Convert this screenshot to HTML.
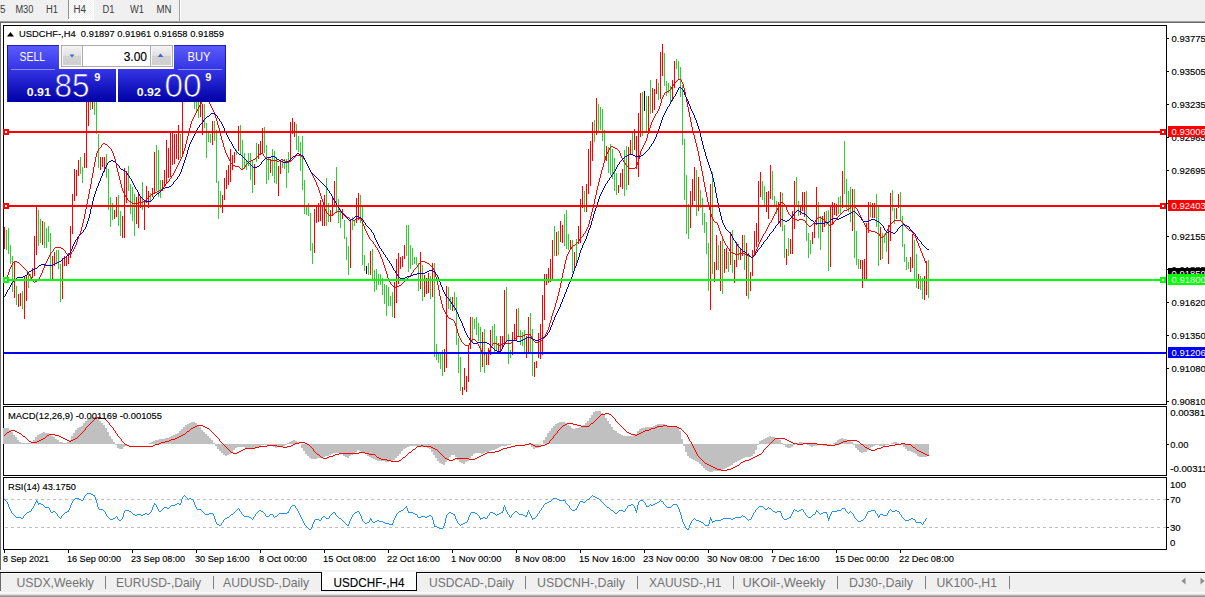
<!DOCTYPE html>
<html><head><meta charset="utf-8"><title>USDCHF-,H4</title>
<style>html,body{margin:0;padding:0;background:#fff;width:1205px;height:597px;overflow:hidden}svg text{font-family:"Liberation Sans",sans-serif}</style></head>
<body>
<svg width="1205" height="597" viewBox="0 0 1205 597" font-family="Liberation Sans, sans-serif" style="position:absolute;left:0;top:0;display:block">
<defs>
<linearGradient id="gb" gradientUnits="userSpaceOnUse" x1="0" y1="45" x2="0" y2="102"><stop offset="0" stop-color="#5c5cff"/><stop offset="0.42" stop-color="#3535e6"/><stop offset="1" stop-color="#0000a6"/></linearGradient>
<linearGradient id="gbtn" x1="0" y1="0" x2="0" y2="1"><stop offset="0" stop-color="#f4f4f4"/><stop offset="0.5" stop-color="#e0e0e0"/><stop offset="0.51" stop-color="#d2d2d2"/><stop offset="1" stop-color="#cfcfcf"/></linearGradient>
<pattern id="chk" x="0" y="0" width="2" height="2" patternUnits="userSpaceOnUse"><rect width="2" height="2" fill="#f0f0f0"/><rect x="1" y="0" width="1" height="1" fill="#fff"/><rect x="0" y="1" width="1" height="1" fill="#fff"/></pattern>
<clipPath id="cpm"><rect x="4" y="26" width="1162" height="378"/></clipPath>
</defs>
<rect x="0" y="0" width="1205" height="597" fill="#fff" />
<rect x="0" y="0" width="1205" height="21" fill="#f0f0f0" />
<rect x="0" y="21" width="1205" height="1" fill="#a0a0a0" />
<rect x="0" y="22" width="1205" height="1" fill="#696969" />
<rect x="0" y="22" width="1" height="548" fill="#696969" />
<rect x="69" y="0" width="24" height="19" fill="url(#chk)" />
<rect x="68" y="19" width="26" height="1" fill="#fff" />
<rect x="93" y="0" width="1" height="20" fill="#fff" />
<rect x="68" y="0" width="1" height="19" fill="#909090" />
<rect x="179" y="0" width="1" height="21" fill="#a0a0a0" />
<rect x="180" y="0" width="1" height="21" fill="#ffffff" />
<text x="0" y="13" font-size="10" fill="#3c3c3c" text-anchor="start" font-weight="normal" textLength="5.5" lengthAdjust="spacingAndGlyphs" >5</text>
<text x="15.4" y="13" font-size="10" fill="#3c3c3c" text-anchor="start" font-weight="normal" textLength="18" lengthAdjust="spacingAndGlyphs" >M30</text>
<text x="46" y="13" font-size="10" fill="#3c3c3c" text-anchor="start" font-weight="normal" textLength="12" lengthAdjust="spacingAndGlyphs" >H1</text>
<text x="73.5" y="13" font-size="10" fill="#3c3c3c" text-anchor="start" font-weight="normal" textLength="12.5" lengthAdjust="spacingAndGlyphs" >H4</text>
<text x="102.4" y="13" font-size="10" fill="#3c3c3c" text-anchor="start" font-weight="normal" textLength="12" lengthAdjust="spacingAndGlyphs" >D1</text>
<text x="130" y="13" font-size="10" fill="#3c3c3c" text-anchor="start" font-weight="normal" textLength="14" lengthAdjust="spacingAndGlyphs" >W1</text>
<text x="156.5" y="13" font-size="10" fill="#3c3c3c" text-anchor="start" font-weight="normal" textLength="15" lengthAdjust="spacingAndGlyphs" >MN</text>
<rect x="3" y="25" width="1164" height="1" fill="#000" />
<rect x="3" y="25" width="1" height="380" fill="#000" />
<rect x="3" y="404" width="1164" height="1" fill="#000" />
<rect x="1166" y="25" width="1" height="380" fill="#000" />
<rect x="1166" y="406" width="1" height="70" fill="#000" />
<rect x="1166" y="477" width="1" height="73" fill="#000" />
<rect x="3" y="406" width="1164" height="1" fill="#000" />
<rect x="3" y="406" width="1" height="70" fill="#000" />
<rect x="3" y="475" width="1164" height="1" fill="#000" />
<rect x="3" y="477" width="1164" height="1" fill="#000" />
<rect x="3" y="477" width="1" height="73" fill="#000" />
<rect x="3" y="549" width="1164" height="1" fill="#000" />
<g clip-path="url(#cpm)">
<path d="M6.5 230V250M8.5 228V254M10.5 245V264M12.5 256V292M16.5 286V305M22.5 291V309M28.5 274V288M30.5 274V280M38.5 210V246M40.5 219V243M44.5 222V248M46.5 228V248M48.5 226V242M50.5 233V279M56.5 250V264M58.5 250V269M60.5 264V302M80.5 157V174M82.5 167V183M90.5 92V110M94.5 92V115M96.5 96V134M98.5 134V168M106.5 154V178M108.5 169V210M110.5 197V227M112.5 203V220M118.5 195V226M120.5 211V236M128.5 166V191M130.5 184V214M132.5 187V221M134.5 194V236M142.5 182V210M150.5 193V202M156.5 145V191M158.5 150V197M160.5 180V198M180.5 134V158M188.5 86V97M192.5 79V97M194.5 89V109M196.5 93V111M198.5 97V118M204.5 104V128M206.5 123V158M208.5 133V142M210.5 134V143M214.5 121V141M216.5 130V183M218.5 181V219M220.5 191V208M236.5 150V155M240.5 125V154M242.5 140V169M244.5 153V169M246.5 160V170M248.5 153V166M250.5 153V180M252.5 160V193M256.5 143V162M264.5 127V153M266.5 145V184M268.5 158V180M272.5 149V176M274.5 151V183M276.5 157V184M282.5 160V168M284.5 159V169M286.5 159V188M288.5 152V173M296.5 124V150M298.5 136V152M300.5 142V171M302.5 136V190M304.5 180V214M306.5 206V215M308.5 203V216M310.5 213V251M312.5 243V264M326.5 178V226M328.5 203V222M336.5 167V212M338.5 199V223M340.5 209V228M344.5 220V239M346.5 237V260M348.5 246V275M352.5 217V230M354.5 220V226M360.5 195V223M362.5 205V265M364.5 255V271M368.5 263V275M372.5 249V281M374.5 270V292M376.5 269V290M378.5 274V285M380.5 274V285M382.5 278V295M384.5 284V304M386.5 285V316M388.5 287V306M390.5 296V306M392.5 292V317M406.5 225V256M408.5 225V272M410.5 245V269M412.5 248V265M414.5 257V264M416.5 257V265M418.5 263V291M422.5 265V301M430.5 276V299M434.5 263V357M436.5 344V360M438.5 352V363M440.5 353V369M442.5 350V376M448.5 287V309M450.5 297V310M454.5 292V311M456.5 297V345M458.5 338V373M460.5 357V391M472.5 317V342M474.5 319V329M476.5 317V335M478.5 323V341M480.5 327V372M484.5 329V373M492.5 326V344M494.5 324V354M496.5 336V351M506.5 287V342M508.5 334V364M510.5 350V358M518.5 308V337M520.5 330V345M522.5 332V346M524.5 330V352M530.5 313V354M532.5 329V376M554.5 226V256M558.5 231V255M564.5 214V246M566.5 210V249M568.5 234V250M572.5 240V273M576.5 239V264M584.5 191V212M594.5 120V142M598.5 104V132M600.5 107V130M602.5 109V141M604.5 130V163M608.5 147V173M610.5 144V175M612.5 149V179M614.5 158V191M616.5 173V195M624.5 150V196M626.5 146V190M632.5 132V154M642.5 92V136M646.5 96V133M650.5 80V114M658.5 83V100M664.5 53V86M666.5 81V96M668.5 83V93M670.5 86V104M676.5 59V69M678.5 61V79M680.5 67V97M682.5 85V145M684.5 139V200M686.5 175V234M688.5 204V239M696.5 170V216M700.5 190V208M702.5 198V225M704.5 213V233M706.5 222V254M708.5 243V291M712.5 172V274M718.5 245V270M722.5 236V294M728.5 252V272M732.5 230V273M738.5 244V260M744.5 235V270M748.5 253V299M762.5 181V200M764.5 186V207M772.5 171V200M774.5 196V207M776.5 201V214M782.5 193V231M784.5 225V258M788.5 238V256M796.5 177V206M798.5 201V216M806.5 191V241M808.5 233V258M810.5 240V254M818.5 202V238M820.5 216V250M826.5 211V225M828.5 210V271M838.5 197V214M840.5 196V215M844.5 141V194M846.5 179V209M848.5 191V212M850.5 187V222M854.5 189V258M856.5 231V265M858.5 259V269M870.5 202V217M876.5 194V227M878.5 207V266M882.5 233V259M884.5 234V243M886.5 233V252M892.5 190V211M894.5 208V224M900.5 192V220M902.5 216V247M904.5 244V262M906.5 257V270M908.5 262V269M914.5 240V280M916.5 254V288M920.5 276V290M922.5 278V299M928.5 260V298" stroke="#32cd32" stroke-width="1" fill="none" shape-rendering="crispEdges"/>
<path d="M4.5 227V249M14.5 262V298M18.5 294V307M20.5 293V306M24.5 276V319M26.5 276V301M32.5 268V278M34.5 236V276M36.5 207V255M42.5 221V245M52.5 256V279M54.5 252V266M62.5 258V299M64.5 256V266M66.5 257V266M68.5 253V264M70.5 226V258M72.5 194V234M74.5 169V201M76.5 170V196M78.5 160V176M84.5 153V168M86.5 94V168M88.5 92V126M92.5 93V109M100.5 157V170M102.5 157V167M104.5 157V172M114.5 210V219M116.5 197V217M122.5 216V238M124.5 168V238M126.5 171V203M136.5 197V224M138.5 192V228M140.5 197V208M144.5 200V230M146.5 186V203M148.5 191V208M152.5 188V197M154.5 152V193M162.5 180V191M164.5 170V187M166.5 140V184M168.5 148V178M170.5 131V177M172.5 132V165M174.5 134V164M176.5 134V159M178.5 125V160M182.5 96V154M184.5 89V100M186.5 87V99M190.5 79V95M200.5 95V117M202.5 104V135M212.5 121V145M222.5 195V213M224.5 178V200M226.5 170V189M228.5 165V185M230.5 149V182M232.5 155V170M234.5 152V163M238.5 126V151M254.5 164V185M258.5 144V159M260.5 141V154M262.5 128V153M270.5 159V173M278.5 166V196M280.5 161V174M290.5 122V162M292.5 118V134M294.5 122V137M314.5 209V253M316.5 207V223M318.5 203V222M320.5 200V221M322.5 205V226M324.5 195V226M330.5 210V222M332.5 198V215M334.5 181V205M342.5 209V219M350.5 221V268M356.5 198V223M358.5 193V220M370.5 251V275M394.5 282V318M396.5 259V303M398.5 253V284M400.5 257V269M402.5 256V267M404.5 245V259M420.5 252V289M424.5 275V297M426.5 278V294M428.5 273V293M432.5 263V297M444.5 349V372M446.5 286V368M452.5 297V311M462.5 387V395M464.5 368V390M466.5 376V392M468.5 346V382M470.5 317V349M482.5 332V367M486.5 352V365M488.5 348V365M490.5 330V355M498.5 343V352M500.5 336V354M502.5 336V348M504.5 290V345M512.5 332V355M514.5 324V340M516.5 309V341M526.5 336V358M528.5 317V353M534.5 362V377M536.5 361V368M538.5 333V358M540.5 324V359M542.5 295V355M544.5 274V320M546.5 274V285M548.5 268V283M550.5 259V282M552.5 240V280M556.5 232V256M560.5 221V242M562.5 225V243M570.5 240V249M574.5 252V268M578.5 226V244M580.5 199V243M582.5 186V208M586.5 184V212M588.5 149V194M590.5 141V186M592.5 122V161M596.5 98V135M606.5 146V161M618.5 185V193M620.5 173V187M622.5 169V189M628.5 147V185M630.5 140V155M634.5 129V150M636.5 136V169M638.5 113V177M640.5 93V137M648.5 96V131M652.5 88V113M654.5 89V110M656.5 79V94M660.5 52V99M662.5 44V76M672.5 80V101M674.5 61V88M690.5 191V228M692.5 179V206M694.5 167V201M698.5 177V211M710.5 184V310M714.5 262V282M716.5 235V270M720.5 241V291M724.5 249V273M726.5 248V269M730.5 232V265M734.5 260V283M736.5 242V267M740.5 249V260M742.5 235V256M746.5 243V296M750.5 272V291M752.5 250V276M754.5 231V254M756.5 223V247M758.5 181V242M760.5 172V197M766.5 192V212M768.5 191V219M770.5 165V199M778.5 202V223M780.5 192V227M786.5 249V265M790.5 239V254M792.5 211V254M794.5 181V229M800.5 205V215M802.5 192V211M804.5 192V217M812.5 232V244M814.5 223V238M816.5 187V225M822.5 216V232M824.5 212V227M830.5 205V267M832.5 202V225M834.5 203V215M836.5 204V216M842.5 171V208M852.5 189V231M860.5 260V269M862.5 260V288M864.5 259V279M866.5 223V279M868.5 202V233M872.5 203V218M874.5 203V218M880.5 227V260M888.5 225V264M890.5 193V241M896.5 208V219M898.5 194V208M910.5 257V272M912.5 234V268M918.5 274V289M924.5 276V300M926.5 261V295" stroke="#ff0000" stroke-width="1" fill="none" shape-rendering="crispEdges"/>
<path d="M366.5 266V274M644.5 91V111" stroke="#000" stroke-width="1" fill="none" shape-rendering="crispEdges"/>
<path d="M6 277h1v2h-1zM7 275h1v2h-1zM8 272h1v3h-1zM9 269h1v3h-1zM10 267h1v2h-1zM11 265h1v2h-1zM12 263h1v2h-1zM13 262h1v1h-1zM14 261h1v1h-1zM15 261h1v1h-1zM16 261h1v1h-1zM17 262h1v1h-1zM18 262h1v1h-1zM19 263h1v1h-1zM20 264h1v1h-1zM21 265h1v1h-1zM22 266h1v1h-1zM23 267h1v1h-1zM24 268h1v1h-1zM25 269h1v1h-1zM26 270h1v1h-1zM27 271h1v2h-1zM28 273h1v1h-1zM29 274h1v2h-1zM30 276h1v1h-1zM31 277h1v2h-1zM32 279h1v2h-1zM33 281h1v1h-1zM34 282h1v1h-1zM35 281h1v1h-1zM36 281h1v1h-1zM37 280h1v1h-1zM38 279h1v1h-1zM39 277h1v2h-1zM40 275h1v2h-1zM41 273h1v2h-1zM42 270h1v3h-1zM43 268h1v2h-1zM44 265h1v3h-1zM45 263h1v2h-1zM46 261h1v2h-1zM47 259h1v2h-1zM48 257h1v2h-1zM49 255h1v2h-1zM50 253h1v2h-1zM51 252h1v1h-1zM52 251h1v1h-1zM53 249h1v2h-1zM54 248h1v1h-1zM55 247h1v1h-1zM56 247h1v1h-1zM57 247h1v1h-1zM58 247h1v1h-1zM59 247h1v1h-1zM60 247h1v1h-1zM61 248h1v1h-1zM62 248h1v1h-1zM63 249h1v1h-1zM64 250h1v1h-1zM65 251h1v2h-1zM66 253h1v1h-1zM67 254h1v1h-1zM68 254h1v1h-1zM69 254h1v1h-1zM70 254h1v1h-1zM71 252h1v2h-1zM72 251h1v1h-1zM73 249h1v2h-1zM74 247h1v2h-1zM75 245h1v2h-1zM76 242h1v3h-1zM77 239h1v3h-1zM78 236h1v3h-1zM79 234h1v2h-1zM80 231h1v3h-1zM81 227h1v4h-1zM82 223h1v4h-1zM83 219h1v4h-1zM84 214h1v5h-1zM85 209h1v5h-1zM86 204h1v5h-1zM87 199h1v5h-1zM88 194h1v5h-1zM89 189h1v5h-1zM90 184h1v5h-1zM91 178h1v6h-1zM92 173h1v5h-1zM93 167h1v6h-1zM94 162h1v5h-1zM95 157h1v5h-1zM96 153h1v4h-1zM97 151h1v2h-1zM98 149h1v2h-1zM99 148h1v1h-1zM100 147h1v1h-1zM101 145h1v2h-1zM102 144h1v1h-1zM103 143h1v1h-1zM104 143h1v1h-1zM105 144h1v1h-1zM106 144h1v1h-1zM107 145h1v1h-1zM108 146h1v1h-1zM109 147h1v1h-1zM110 148h1v1h-1zM111 149h1v2h-1zM112 151h1v2h-1zM113 153h1v3h-1zM114 156h1v3h-1zM115 159h1v4h-1zM116 163h1v5h-1zM117 168h1v4h-1zM118 172h1v4h-1zM119 176h1v4h-1zM120 180h1v4h-1zM121 184h1v4h-1zM122 188h1v3h-1zM123 191h1v2h-1zM124 193h1v2h-1zM125 195h1v2h-1zM126 197h1v1h-1zM127 198h1v2h-1zM128 200h1v1h-1zM129 201h1v1h-1zM130 201h1v1h-1zM131 202h1v1h-1zM132 203h1v1h-1zM133 203h1v1h-1zM134 203h1v1h-1zM135 203h1v1h-1zM136 203h1v1h-1zM137 203h1v1h-1zM138 203h1v1h-1zM139 202h1v1h-1zM140 202h1v1h-1zM141 202h1v1h-1zM142 202h1v1h-1zM143 201h1v1h-1zM144 201h1v1h-1zM145 200h1v1h-1zM146 199h1v1h-1zM147 198h1v1h-1zM148 197h1v1h-1zM149 196h1v1h-1zM150 195h1v1h-1zM151 194h1v1h-1zM152 193h1v1h-1zM153 193h1v1h-1zM154 193h1v1h-1zM155 192h1v1h-1zM156 192h1v1h-1zM157 191h1v1h-1zM158 191h1v1h-1zM159 190h1v1h-1zM160 190h1v1h-1zM161 189h1v1h-1zM162 188h1v1h-1zM163 187h1v1h-1zM164 186h1v1h-1zM165 184h1v2h-1zM166 183h1v1h-1zM167 182h1v1h-1zM168 181h1v1h-1zM169 179h1v2h-1zM170 178h1v1h-1zM171 176h1v2h-1zM172 175h1v1h-1zM173 173h1v2h-1zM174 171h1v2h-1zM175 169h1v2h-1zM176 167h1v2h-1zM177 165h1v2h-1zM178 163h1v2h-1zM179 161h1v2h-1zM180 159h1v2h-1zM181 157h1v2h-1zM182 154h1v3h-1zM183 151h1v3h-1zM184 148h1v3h-1zM185 144h1v4h-1zM186 140h1v4h-1zM187 136h1v4h-1zM188 132h1v4h-1zM189 128h1v4h-1zM190 124h1v4h-1zM191 121h1v3h-1zM192 119h1v2h-1zM193 117h1v2h-1zM194 115h1v2h-1zM195 113h1v2h-1zM196 111h1v2h-1zM197 109h1v2h-1zM198 107h1v2h-1zM199 105h1v2h-1zM200 104h1v1h-1zM201 102h1v2h-1zM202 101h1v1h-1zM203 99h1v2h-1zM204 98h1v1h-1zM205 98h1v1h-1zM206 98h1v1h-1zM207 99h1v2h-1zM208 101h1v1h-1zM209 102h1v2h-1zM210 104h1v2h-1zM211 106h1v2h-1zM212 108h1v2h-1zM213 110h1v2h-1zM214 112h1v3h-1zM215 115h1v3h-1zM216 118h1v3h-1zM217 121h1v4h-1zM218 125h1v3h-1zM219 128h1v4h-1zM220 132h1v4h-1zM221 136h1v4h-1zM222 140h1v3h-1zM223 143h1v4h-1zM224 147h1v3h-1zM225 150h1v3h-1zM226 153h1v2h-1zM227 155h1v2h-1zM228 157h1v2h-1zM229 159h1v2h-1zM230 161h1v2h-1zM231 163h1v1h-1zM232 164h1v1h-1zM233 165h1v1h-1zM234 165h1v1h-1zM235 166h1v1h-1zM236 166h1v1h-1zM237 166h1v1h-1zM238 166h1v1h-1zM239 167h1v1h-1zM240 168h1v1h-1zM241 169h1v1h-1zM242 169h1v1h-1zM243 168h1v1h-1zM244 167h1v1h-1zM245 165h1v2h-1zM246 164h1v1h-1zM247 163h1v1h-1zM248 162h1v1h-1zM249 161h1v1h-1zM250 161h1v1h-1zM251 160h1v1h-1zM252 160h1v1h-1zM253 159h1v1h-1zM254 159h1v1h-1zM255 158h1v1h-1zM256 157h1v1h-1zM257 156h1v1h-1zM258 155h1v1h-1zM259 154h1v1h-1zM260 154h1v1h-1zM261 153h1v1h-1zM262 153h1v1h-1zM263 154h1v2h-1zM264 156h1v1h-1zM265 157h1v1h-1zM266 158h1v1h-1zM267 159h1v1h-1zM268 159h1v1h-1zM269 159h1v1h-1zM270 159h1v1h-1zM271 160h1v1h-1zM272 160h1v1h-1zM273 160h1v1h-1zM274 160h1v1h-1zM275 160h1v1h-1zM276 160h1v1h-1zM277 161h1v1h-1zM278 161h1v1h-1zM279 160h1v1h-1zM280 160h1v1h-1zM281 159h1v1h-1zM282 159h1v1h-1zM283 160h1v1h-1zM284 160h1v1h-1zM285 161h1v1h-1zM286 161h1v1h-1zM287 162h1v1h-1zM288 162h1v1h-1zM289 161h1v1h-1zM290 161h1v1h-1zM291 160h1v1h-1zM292 159h1v1h-1zM293 158h1v1h-1zM294 157h1v1h-1zM295 156h1v1h-1zM296 155h1v1h-1zM297 155h1v1h-1zM298 155h1v1h-1zM299 155h1v1h-1zM300 155h1v1h-1zM301 156h1v1h-1zM302 156h1v1h-1zM303 157h1v2h-1zM304 159h1v1h-1zM305 160h1v2h-1zM306 162h1v2h-1zM307 164h1v2h-1zM308 166h1v2h-1zM309 168h1v2h-1zM310 170h1v2h-1zM311 172h1v2h-1zM312 174h1v2h-1zM313 176h1v2h-1zM314 178h1v2h-1zM315 180h1v2h-1zM316 182h1v3h-1zM317 185h1v2h-1zM318 187h1v3h-1zM319 190h1v3h-1zM320 193h1v3h-1zM321 196h1v3h-1zM322 199h1v3h-1zM323 202h1v4h-1zM324 206h1v3h-1zM325 209h1v2h-1zM326 211h1v2h-1zM327 213h1v1h-1zM328 214h1v1h-1zM329 215h1v1h-1zM330 215h1v1h-1zM331 215h1v1h-1zM332 215h1v1h-1zM333 214h1v1h-1zM334 213h1v1h-1zM335 212h1v1h-1zM336 212h1v1h-1zM337 211h1v1h-1zM338 211h1v1h-1zM339 211h1v1h-1zM340 211h1v1h-1zM341 212h1v1h-1zM342 212h1v1h-1zM343 213h1v1h-1zM344 214h1v1h-1zM345 215h1v1h-1zM346 216h1v1h-1zM347 217h1v1h-1zM348 217h1v1h-1zM349 218h1v1h-1zM350 219h1v1h-1zM351 219h1v1h-1zM352 219h1v1h-1zM353 220h1v1h-1zM354 220h1v1h-1zM355 219h1v1h-1zM356 219h1v1h-1zM357 218h1v1h-1zM358 218h1v1h-1zM359 218h1v1h-1zM360 218h1v1h-1zM361 219h1v2h-1zM362 221h1v3h-1zM363 224h1v2h-1zM364 226h1v3h-1zM365 229h1v2h-1zM366 231h1v2h-1zM367 233h1v2h-1zM368 235h1v2h-1zM369 237h1v2h-1zM370 239h1v1h-1zM371 240h1v1h-1zM372 241h1v1h-1zM373 242h1v2h-1zM374 244h1v1h-1zM375 245h1v2h-1zM376 247h1v1h-1zM377 248h1v2h-1zM378 250h1v2h-1zM379 252h1v2h-1zM380 254h1v3h-1zM381 257h1v2h-1zM382 259h1v3h-1zM383 262h1v3h-1zM384 265h1v3h-1zM385 268h1v3h-1zM386 271h1v3h-1zM387 274h1v4h-1zM388 278h1v2h-1zM389 280h1v2h-1zM390 282h1v2h-1zM391 284h1v1h-1zM392 285h1v1h-1zM393 286h1v1h-1zM394 287h1v1h-1zM395 287h1v1h-1zM396 287h1v1h-1zM397 286h1v1h-1zM398 286h1v1h-1zM399 285h1v1h-1zM400 285h1v1h-1zM401 284h1v1h-1zM402 283h1v1h-1zM403 282h1v1h-1zM404 281h1v1h-1zM405 280h1v1h-1zM406 279h1v1h-1zM407 278h1v1h-1zM408 277h1v1h-1zM409 276h1v1h-1zM410 275h1v1h-1zM411 273h1v2h-1zM412 272h1v1h-1zM413 270h1v2h-1zM414 269h1v1h-1zM415 268h1v1h-1zM416 267h1v1h-1zM417 265h1v2h-1zM418 264h1v1h-1zM419 263h1v1h-1zM420 262h1v1h-1zM421 261h1v1h-1zM422 261h1v1h-1zM423 261h1v1h-1zM424 261h1v1h-1zM425 262h1v1h-1zM426 262h1v1h-1zM427 263h1v1h-1zM428 263h1v1h-1zM429 264h1v1h-1zM430 265h1v1h-1zM431 266h1v1h-1zM432 267h1v1h-1zM433 268h1v2h-1zM434 270h1v3h-1zM435 273h1v4h-1zM436 277h1v4h-1zM437 281h1v4h-1zM438 285h1v5h-1zM439 290h1v6h-1zM440 296h1v4h-1zM441 300h1v4h-1zM442 304h1v4h-1zM443 308h1v2h-1zM444 310h1v2h-1zM445 312h1v2h-1zM446 314h1v1h-1zM447 315h1v2h-1zM448 317h1v1h-1zM449 318h1v1h-1zM450 318h1v1h-1zM451 319h1v1h-1zM452 319h1v1h-1zM453 320h1v1h-1zM454 321h1v2h-1zM455 323h1v3h-1zM456 326h1v3h-1zM457 329h1v4h-1zM458 333h1v3h-1zM459 336h1v2h-1zM460 338h1v2h-1zM461 340h1v2h-1zM462 342h1v1h-1zM463 343h1v1h-1zM464 344h1v1h-1zM465 345h1v1h-1zM466 345h1v1h-1zM467 345h1v1h-1zM468 345h1v1h-1zM469 343h1v2h-1zM470 342h1v1h-1zM471 340h1v2h-1zM472 339h1v1h-1zM473 339h1v1h-1zM474 339h1v1h-1zM475 340h1v1h-1zM476 341h1v1h-1zM477 342h1v2h-1zM478 344h1v2h-1zM479 346h1v2h-1zM480 348h1v2h-1zM481 350h1v2h-1zM482 352h1v1h-1zM483 353h1v1h-1zM484 354h1v1h-1zM485 353h1v1h-1zM486 353h1v1h-1zM487 352h1v1h-1zM488 352h1v1h-1zM489 350h1v2h-1zM490 348h1v2h-1zM491 346h1v2h-1zM492 344h1v2h-1zM493 343h1v1h-1zM494 343h1v1h-1zM495 343h1v1h-1zM496 343h1v1h-1zM497 344h1v1h-1zM498 344h1v1h-1zM499 345h1v1h-1zM500 345h1v1h-1zM501 344h1v1h-1zM502 344h1v1h-1zM503 343h1v1h-1zM504 343h1v1h-1zM505 343h1v1h-1zM506 343h1v1h-1zM507 343h1v1h-1zM508 343h1v1h-1zM509 343h1v1h-1zM510 343h1v1h-1zM511 342h1v1h-1zM512 341h1v1h-1zM513 340h1v1h-1zM514 339h1v1h-1zM515 338h1v1h-1zM516 337h1v1h-1zM517 336h1v1h-1zM518 336h1v1h-1zM519 336h1v1h-1zM520 336h1v1h-1zM521 336h1v1h-1zM522 336h1v1h-1zM523 335h1v1h-1zM524 335h1v1h-1zM525 334h1v1h-1zM526 334h1v1h-1zM527 334h1v1h-1zM528 334h1v1h-1zM529 334h1v1h-1zM530 334h1v2h-1zM531 336h1v2h-1zM532 338h1v2h-1zM533 340h1v1h-1zM534 341h1v1h-1zM535 342h1v1h-1zM536 342h1v1h-1zM537 342h1v1h-1zM538 342h1v1h-1zM539 341h1v1h-1zM540 341h1v1h-1zM541 340h1v1h-1zM542 339h1v1h-1zM543 337h1v2h-1zM544 336h1v1h-1zM545 334h1v2h-1zM546 332h1v2h-1zM547 330h1v2h-1zM548 327h1v3h-1zM549 323h1v4h-1zM550 320h1v3h-1zM551 316h1v4h-1zM552 313h1v3h-1zM553 310h1v3h-1zM554 307h1v3h-1zM555 303h1v4h-1zM556 300h1v3h-1zM557 296h1v4h-1zM558 292h1v4h-1zM559 288h1v4h-1zM560 283h1v5h-1zM561 278h1v5h-1zM562 273h1v5h-1zM563 269h1v4h-1zM564 264h1v5h-1zM565 260h1v4h-1zM566 256h1v4h-1zM567 254h1v2h-1zM568 252h1v2h-1zM569 250h1v2h-1zM570 249h1v1h-1zM571 247h1v2h-1zM572 246h1v1h-1zM573 245h1v1h-1zM574 245h1v1h-1zM575 244h1v1h-1zM576 243h1v1h-1zM577 242h1v1h-1zM578 241h1v1h-1zM579 239h1v2h-1zM580 238h1v1h-1zM581 237h1v1h-1zM582 236h1v1h-1zM583 234h1v2h-1zM584 233h1v1h-1zM585 231h1v2h-1zM586 229h1v2h-1zM587 227h1v2h-1zM588 224h1v3h-1zM589 220h1v4h-1zM590 216h1v4h-1zM591 212h1v4h-1zM592 208h1v4h-1zM593 204h1v4h-1zM594 199h1v5h-1zM595 195h1v4h-1zM596 190h1v5h-1zM597 186h1v4h-1zM598 182h1v4h-1zM599 178h1v4h-1zM600 174h1v4h-1zM601 170h1v4h-1zM602 167h1v3h-1zM603 163h1v4h-1zM604 160h1v3h-1zM605 156h1v4h-1zM606 154h1v2h-1zM607 152h1v2h-1zM608 150h1v2h-1zM609 148h1v2h-1zM610 147h1v1h-1zM611 146h1v1h-1zM612 146h1v1h-1zM613 147h1v1h-1zM614 147h1v1h-1zM615 148h1v1h-1zM616 148h1v1h-1zM617 149h1v1h-1zM618 150h1v1h-1zM619 151h1v2h-1zM620 153h1v3h-1zM621 156h1v2h-1zM622 158h1v2h-1zM623 160h1v2h-1zM624 162h1v1h-1zM625 163h1v2h-1zM626 165h1v1h-1zM627 166h1v1h-1zM628 167h1v1h-1zM629 168h1v1h-1zM630 168h1v1h-1zM631 168h1v1h-1zM632 168h1v1h-1zM633 168h1v1h-1zM634 168h1v1h-1zM635 167h1v1h-1zM636 165h1v2h-1zM637 162h1v3h-1zM638 159h1v3h-1zM639 155h1v4h-1zM640 151h1v4h-1zM641 149h1v2h-1zM642 147h1v2h-1zM643 145h1v2h-1zM644 143h1v2h-1zM645 141h1v2h-1zM646 138h1v3h-1zM647 134h1v4h-1zM648 131h1v3h-1zM649 128h1v3h-1zM650 125h1v3h-1zM651 122h1v3h-1zM652 120h1v2h-1zM653 118h1v2h-1zM654 116h1v2h-1zM655 114h1v2h-1zM656 113h1v1h-1zM657 111h1v2h-1zM658 109h1v2h-1zM659 106h1v3h-1zM660 103h1v3h-1zM661 99h1v4h-1zM662 97h1v2h-1zM663 95h1v2h-1zM664 93h1v2h-1zM665 92h1v1h-1zM666 92h1v1h-1zM667 91h1v1h-1zM668 91h1v1h-1zM669 90h1v1h-1zM670 89h1v1h-1zM671 87h1v2h-1zM672 86h1v1h-1zM673 84h1v2h-1zM674 83h1v1h-1zM675 82h1v1h-1zM676 81h1v1h-1zM677 80h1v1h-1zM678 79h1v1h-1zM679 79h1v1h-1zM680 79h1v1h-1zM681 80h1v2h-1zM682 82h1v2h-1zM683 84h1v4h-1zM684 88h1v4h-1zM685 92h1v5h-1zM686 97h1v5h-1zM687 102h1v5h-1zM688 107h1v5h-1zM689 112h1v5h-1zM690 117h1v5h-1zM691 122h1v5h-1zM692 127h1v4h-1zM693 131h1v4h-1zM694 135h1v4h-1zM695 139h1v4h-1zM696 143h1v4h-1zM697 147h1v4h-1zM698 151h1v5h-1zM699 156h1v5h-1zM700 161h1v5h-1zM701 166h1v5h-1zM702 171h1v5h-1zM703 176h1v6h-1zM704 182h1v5h-1zM705 187h1v5h-1zM706 192h1v5h-1zM707 197h1v5h-1zM708 202h1v4h-1zM709 206h1v4h-1zM710 210h1v4h-1zM711 214h1v3h-1zM712 217h1v2h-1zM713 219h1v2h-1zM714 221h1v1h-1zM715 222h1v1h-1zM716 222h1v1h-1zM717 223h1v2h-1zM718 225h1v3h-1zM719 228h1v3h-1zM720 231h1v3h-1zM721 234h1v2h-1zM722 236h1v3h-1zM723 239h1v2h-1zM724 241h1v2h-1zM725 243h1v2h-1zM726 245h1v1h-1zM727 246h1v2h-1zM728 248h1v1h-1zM729 249h1v2h-1zM730 251h1v1h-1zM731 252h1v1h-1zM732 252h1v1h-1zM733 253h1v1h-1zM734 253h1v1h-1zM735 254h1v1h-1zM736 254h1v1h-1zM737 254h1v1h-1zM738 254h1v1h-1zM739 253h1v1h-1zM740 253h1v1h-1zM741 253h1v1h-1zM742 253h1v1h-1zM743 253h1v1h-1zM744 253h1v1h-1zM745 254h1v1h-1zM746 254h1v1h-1zM747 255h1v1h-1zM748 255h1v1h-1zM749 256h1v1h-1zM750 256h1v1h-1zM751 257h1v1h-1zM752 257h1v1h-1zM753 255h1v2h-1zM754 253h1v2h-1zM755 251h1v2h-1zM756 249h1v2h-1zM757 247h1v2h-1zM758 244h1v3h-1zM759 242h1v2h-1zM760 240h1v2h-1zM761 238h1v2h-1zM762 236h1v2h-1zM763 234h1v2h-1zM764 233h1v1h-1zM765 231h1v2h-1zM766 229h1v2h-1zM767 227h1v2h-1zM768 225h1v2h-1zM769 223h1v2h-1zM770 222h1v1h-1zM771 220h1v2h-1zM772 218h1v2h-1zM773 216h1v2h-1zM774 214h1v2h-1zM775 212h1v2h-1zM776 210h1v2h-1zM777 208h1v2h-1zM778 206h1v2h-1zM779 204h1v2h-1zM780 202h1v2h-1zM781 202h1v1h-1zM782 202h1v1h-1zM783 203h1v1h-1zM784 204h1v1h-1zM785 205h1v2h-1zM786 207h1v3h-1zM787 210h1v2h-1zM788 212h1v2h-1zM789 214h1v1h-1zM790 215h1v1h-1zM791 216h1v1h-1zM792 217h1v1h-1zM793 218h1v1h-1zM794 218h1v1h-1zM795 219h1v1h-1zM796 219h1v1h-1zM797 220h1v1h-1zM798 220h1v1h-1zM799 219h1v1h-1zM800 219h1v1h-1zM801 219h1v1h-1zM802 219h1v1h-1zM803 220h1v1h-1zM804 220h1v1h-1zM805 221h1v2h-1zM806 223h1v1h-1zM807 224h1v1h-1zM808 225h1v1h-1zM809 226h1v1h-1zM810 226h1v1h-1zM811 225h1v1h-1zM812 224h1v1h-1zM813 223h1v1h-1zM814 222h1v1h-1zM815 220h1v2h-1zM816 219h1v1h-1zM817 218h1v1h-1zM818 217h1v1h-1zM819 217h1v1h-1zM820 217h1v1h-1zM821 218h1v1h-1zM822 218h1v1h-1zM823 219h1v1h-1zM824 220h1v1h-1zM825 221h1v1h-1zM826 222h1v1h-1zM827 223h1v1h-1zM828 224h1v1h-1zM829 225h1v1h-1zM830 225h1v1h-1zM831 224h1v1h-1zM832 224h1v1h-1zM833 222h1v2h-1zM834 221h1v1h-1zM835 220h1v1h-1zM836 219h1v1h-1zM837 217h1v2h-1zM838 216h1v1h-1zM839 215h1v1h-1zM840 214h1v1h-1zM841 213h1v1h-1zM842 212h1v1h-1zM843 211h1v1h-1zM844 210h1v1h-1zM845 210h1v1h-1zM846 210h1v1h-1zM847 209h1v1h-1zM848 209h1v1h-1zM849 208h1v1h-1zM850 207h1v1h-1zM851 206h1v1h-1zM852 206h1v1h-1zM853 206h1v1h-1zM854 206h1v1h-1zM855 207h1v1h-1zM856 208h1v1h-1zM857 209h1v2h-1zM858 211h1v2h-1zM859 213h1v2h-1zM860 215h1v2h-1zM861 217h1v2h-1zM862 219h1v2h-1zM863 221h1v2h-1zM864 223h1v2h-1zM865 225h1v2h-1zM866 227h1v1h-1zM867 228h1v1h-1zM868 229h1v1h-1zM869 230h1v1h-1zM870 230h1v1h-1zM871 231h1v1h-1zM872 231h1v1h-1zM873 231h1v1h-1zM874 231h1v1h-1zM875 232h1v1h-1zM876 232h1v1h-1zM877 233h1v1h-1zM878 233h1v1h-1zM879 234h1v2h-1zM880 236h1v1h-1zM881 237h1v1h-1zM882 237h1v1h-1zM883 236h1v1h-1zM884 235h1v1h-1zM885 233h1v2h-1zM886 231h1v2h-1zM887 229h1v2h-1zM888 227h1v2h-1zM889 225h1v2h-1zM890 224h1v1h-1zM891 223h1v1h-1zM892 222h1v1h-1zM893 221h1v1h-1zM894 220h1v1h-1zM895 220h1v1h-1zM896 220h1v1h-1zM897 220h1v1h-1zM898 220h1v1h-1zM899 220h1v1h-1zM900 220h1v1h-1zM901 221h1v1h-1zM902 222h1v1h-1zM903 223h1v2h-1zM904 225h1v1h-1zM905 226h1v1h-1zM906 227h1v1h-1zM907 228h1v1h-1zM908 229h1v1h-1zM909 230h1v1h-1zM910 230h1v1h-1zM911 231h1v1h-1zM912 232h1v1h-1zM913 233h1v2h-1zM914 235h1v1h-1zM915 236h1v2h-1zM916 238h1v3h-1zM917 241h1v2h-1zM918 243h1v3h-1zM919 246h1v2h-1zM920 248h1v3h-1zM921 251h1v2h-1zM922 253h1v3h-1zM923 256h1v2h-1zM924 258h1v3h-1zM925 261h1v2h-1zM926 263h1v2h-1z" fill="#ff0000" shape-rendering="crispEdges"/>
<path d="M4 296h1v1h-1zM5 294h1v2h-1zM6 292h1v2h-1zM7 290h1v2h-1zM8 289h1v1h-1zM9 287h1v2h-1zM10 285h1v2h-1zM11 283h1v2h-1zM12 282h1v1h-1zM13 281h1v1h-1zM14 280h1v1h-1zM15 279h1v1h-1zM16 278h1v1h-1zM17 277h1v1h-1zM18 277h1v1h-1zM19 277h1v1h-1zM20 277h1v1h-1zM21 277h1v1h-1zM22 277h1v1h-1zM23 276h1v1h-1zM24 276h1v1h-1zM25 275h1v1h-1zM26 275h1v1h-1zM27 273h1v2h-1zM28 272h1v1h-1zM29 271h1v1h-1zM30 271h1v1h-1zM31 270h1v1h-1zM32 270h1v1h-1zM33 269h1v1h-1zM34 269h1v1h-1zM35 268h1v1h-1zM36 268h1v1h-1zM37 267h1v1h-1zM38 266h1v1h-1zM39 265h1v1h-1zM40 265h1v1h-1zM41 264h1v1h-1zM42 264h1v1h-1zM43 264h1v1h-1zM44 264h1v1h-1zM45 265h1v1h-1zM46 265h1v1h-1zM47 265h1v1h-1zM48 265h1v1h-1zM49 265h1v1h-1zM50 265h1v1h-1zM51 265h1v1h-1zM52 265h1v1h-1zM53 264h1v1h-1zM54 264h1v1h-1zM55 263h1v1h-1zM56 263h1v1h-1zM57 262h1v1h-1zM58 262h1v1h-1zM59 261h1v1h-1zM60 261h1v1h-1zM61 260h1v1h-1zM62 259h1v1h-1zM63 258h1v1h-1zM64 258h1v1h-1zM65 257h1v1h-1zM66 256h1v1h-1zM67 255h1v1h-1zM68 255h1v1h-1zM69 253h1v2h-1zM70 251h1v2h-1zM71 249h1v2h-1zM72 246h1v3h-1zM73 244h1v2h-1zM74 242h1v2h-1zM75 240h1v2h-1zM76 239h1v1h-1zM77 237h1v2h-1zM78 236h1v1h-1zM79 235h1v1h-1zM80 234h1v1h-1zM81 233h1v1h-1zM82 232h1v1h-1zM83 230h1v2h-1zM84 229h1v1h-1zM85 227h1v2h-1zM86 224h1v3h-1zM87 221h1v3h-1zM88 218h1v3h-1zM89 214h1v4h-1zM90 209h1v5h-1zM91 205h1v4h-1zM92 201h1v4h-1zM93 197h1v4h-1zM94 194h1v3h-1zM95 191h1v3h-1zM96 188h1v3h-1zM97 186h1v2h-1zM98 183h1v3h-1zM99 181h1v2h-1zM100 178h1v3h-1zM101 176h1v2h-1zM102 173h1v3h-1zM103 171h1v2h-1zM104 169h1v2h-1zM105 167h1v2h-1zM106 165h1v2h-1zM107 163h1v2h-1zM108 162h1v1h-1zM109 161h1v1h-1zM110 161h1v1h-1zM111 160h1v1h-1zM112 160h1v1h-1zM113 161h1v1h-1zM114 161h1v1h-1zM115 162h1v1h-1zM116 163h1v1h-1zM117 164h1v1h-1zM118 165h1v1h-1zM119 166h1v2h-1zM120 168h1v1h-1zM121 169h1v1h-1zM122 169h1v1h-1zM123 170h1v1h-1zM124 170h1v1h-1zM125 171h1v1h-1zM126 172h1v1h-1zM127 173h1v2h-1zM128 175h1v1h-1zM129 176h1v2h-1zM130 178h1v1h-1zM131 179h1v2h-1zM132 181h1v2h-1zM133 183h1v2h-1zM134 185h1v2h-1zM135 187h1v2h-1zM136 189h1v1h-1zM137 190h1v2h-1zM138 192h1v2h-1zM139 194h1v2h-1zM140 196h1v1h-1zM141 197h1v1h-1zM142 198h1v1h-1zM143 199h1v1h-1zM144 200h1v1h-1zM145 201h1v1h-1zM146 201h1v1h-1zM147 201h1v1h-1zM148 201h1v1h-1zM149 201h1v1h-1zM150 201h1v1h-1zM151 200h1v1h-1zM152 199h1v1h-1zM153 197h1v2h-1zM154 196h1v1h-1zM155 195h1v1h-1zM156 194h1v1h-1zM157 193h1v1h-1zM158 193h1v1h-1zM159 192h1v1h-1zM160 191h1v1h-1zM161 190h1v1h-1zM162 189h1v1h-1zM163 188h1v1h-1zM164 188h1v1h-1zM165 187h1v1h-1zM166 187h1v1h-1zM167 187h1v1h-1zM168 187h1v1h-1zM169 186h1v1h-1zM170 186h1v1h-1zM171 185h1v1h-1zM172 184h1v1h-1zM173 182h1v2h-1zM174 181h1v1h-1zM175 180h1v1h-1zM176 179h1v1h-1zM177 177h1v2h-1zM178 176h1v1h-1zM179 174h1v2h-1zM180 172h1v2h-1zM181 169h1v3h-1zM182 166h1v3h-1zM183 163h1v3h-1zM184 160h1v3h-1zM185 157h1v3h-1zM186 154h1v3h-1zM187 150h1v4h-1zM188 147h1v3h-1zM189 144h1v3h-1zM190 142h1v2h-1zM191 140h1v2h-1zM192 138h1v2h-1zM193 136h1v2h-1zM194 134h1v2h-1zM195 132h1v2h-1zM196 130h1v2h-1zM197 128h1v2h-1zM198 127h1v1h-1zM199 125h1v2h-1zM200 124h1v1h-1zM201 123h1v1h-1zM202 122h1v1h-1zM203 120h1v2h-1zM204 119h1v1h-1zM205 118h1v1h-1zM206 117h1v1h-1zM207 116h1v1h-1zM208 116h1v1h-1zM209 115h1v1h-1zM210 114h1v1h-1zM211 113h1v1h-1zM212 113h1v1h-1zM213 113h1v1h-1zM214 113h1v1h-1zM215 114h1v1h-1zM216 115h1v1h-1zM217 116h1v2h-1zM218 118h1v1h-1zM219 119h1v2h-1zM220 121h1v1h-1zM221 122h1v2h-1zM222 124h1v2h-1zM223 126h1v2h-1zM224 128h1v3h-1zM225 131h1v2h-1zM226 133h1v2h-1zM227 135h1v2h-1zM228 137h1v2h-1zM229 139h1v2h-1zM230 141h1v1h-1zM231 142h1v2h-1zM232 144h1v2h-1zM233 146h1v2h-1zM234 148h1v1h-1zM235 149h1v2h-1zM236 151h1v1h-1zM237 152h1v1h-1zM238 153h1v1h-1zM239 154h1v1h-1zM240 154h1v1h-1zM241 155h1v1h-1zM242 156h1v1h-1zM243 157h1v1h-1zM244 158h1v1h-1zM245 159h1v1h-1zM246 160h1v1h-1zM247 161h1v1h-1zM248 162h1v1h-1zM249 163h1v1h-1zM250 164h1v1h-1zM251 165h1v1h-1zM252 166h1v1h-1zM253 167h1v1h-1zM254 167h1v1h-1zM255 167h1v1h-1zM256 167h1v1h-1zM257 166h1v1h-1zM258 166h1v1h-1zM259 165h1v1h-1zM260 164h1v1h-1zM261 162h1v2h-1zM262 161h1v1h-1zM263 160h1v1h-1zM264 159h1v1h-1zM265 158h1v1h-1zM266 158h1v1h-1zM267 157h1v1h-1zM268 157h1v1h-1zM269 157h1v1h-1zM270 157h1v1h-1zM271 156h1v1h-1zM272 156h1v1h-1zM273 156h1v1h-1zM274 156h1v1h-1zM275 157h1v1h-1zM276 158h1v1h-1zM277 159h1v1h-1zM278 159h1v1h-1zM279 160h1v1h-1zM280 160h1v1h-1zM281 161h1v1h-1zM282 161h1v1h-1zM283 162h1v1h-1zM284 162h1v1h-1zM285 162h1v1h-1zM286 162h1v1h-1zM287 161h1v1h-1zM288 161h1v1h-1zM289 160h1v1h-1zM290 159h1v1h-1zM291 158h1v1h-1zM292 157h1v1h-1zM293 156h1v1h-1zM294 156h1v1h-1zM295 155h1v1h-1zM296 154h1v1h-1zM297 153h1v1h-1zM298 153h1v1h-1zM299 154h1v1h-1zM300 154h1v1h-1zM301 155h1v1h-1zM302 155h1v1h-1zM303 156h1v2h-1zM304 158h1v2h-1zM305 160h1v2h-1zM306 162h1v2h-1zM307 164h1v2h-1zM308 166h1v2h-1zM309 168h1v2h-1zM310 170h1v2h-1zM311 172h1v1h-1zM312 173h1v1h-1zM313 174h1v1h-1zM314 175h1v1h-1zM315 176h1v1h-1zM316 177h1v1h-1zM317 178h1v1h-1zM318 179h1v1h-1zM319 180h1v1h-1zM320 181h1v1h-1zM321 182h1v1h-1zM322 183h1v1h-1zM323 184h1v1h-1zM324 185h1v1h-1zM325 186h1v1h-1zM326 187h1v1h-1zM327 188h1v2h-1zM328 190h1v1h-1zM329 191h1v2h-1zM330 193h1v1h-1zM331 194h1v2h-1zM332 196h1v2h-1zM333 198h1v2h-1zM334 200h1v1h-1zM335 201h1v2h-1zM336 203h1v2h-1zM337 205h1v2h-1zM338 207h1v1h-1zM339 208h1v2h-1zM340 210h1v1h-1zM341 211h1v2h-1zM342 213h1v1h-1zM343 214h1v1h-1zM344 215h1v1h-1zM345 216h1v1h-1zM346 217h1v1h-1zM347 218h1v1h-1zM348 219h1v1h-1zM349 220h1v1h-1zM350 220h1v1h-1zM351 219h1v1h-1zM352 219h1v1h-1zM353 218h1v1h-1zM354 217h1v1h-1zM355 216h1v1h-1zM356 216h1v1h-1zM357 216h1v1h-1zM358 216h1v1h-1zM359 217h1v1h-1zM360 217h1v1h-1zM361 218h1v1h-1zM362 219h1v1h-1zM363 220h1v2h-1zM364 222h1v1h-1zM365 223h1v2h-1zM366 225h1v1h-1zM367 226h1v1h-1zM368 227h1v1h-1zM369 228h1v1h-1zM370 229h1v1h-1zM371 230h1v2h-1zM372 232h1v1h-1zM373 233h1v2h-1zM374 235h1v3h-1zM375 238h1v2h-1zM376 240h1v2h-1zM377 242h1v2h-1zM378 244h1v2h-1zM379 246h1v2h-1zM380 248h1v1h-1zM381 249h1v2h-1zM382 251h1v1h-1zM383 252h1v2h-1zM384 254h1v1h-1zM385 255h1v2h-1zM386 257h1v1h-1zM387 258h1v2h-1zM388 260h1v1h-1zM389 261h1v2h-1zM390 263h1v1h-1zM391 264h1v2h-1zM392 266h1v2h-1zM393 268h1v2h-1zM394 270h1v1h-1zM395 271h1v2h-1zM396 273h1v1h-1zM397 274h1v2h-1zM398 276h1v1h-1zM399 277h1v1h-1zM400 278h1v1h-1zM401 278h1v1h-1zM402 278h1v1h-1zM403 278h1v1h-1zM404 278h1v1h-1zM405 277h1v1h-1zM406 277h1v1h-1zM407 276h1v1h-1zM408 276h1v1h-1zM409 276h1v1h-1zM410 276h1v1h-1zM411 275h1v1h-1zM412 275h1v1h-1zM413 274h1v1h-1zM414 274h1v1h-1zM415 274h1v1h-1zM416 274h1v1h-1zM417 273h1v1h-1zM418 273h1v1h-1zM419 273h1v1h-1zM420 273h1v1h-1zM421 273h1v1h-1zM422 273h1v1h-1zM423 273h1v1h-1zM424 273h1v1h-1zM425 272h1v1h-1zM426 272h1v1h-1zM427 271h1v1h-1zM428 271h1v1h-1zM429 270h1v1h-1zM430 270h1v1h-1zM431 270h1v1h-1zM432 270h1v1h-1zM433 271h1v1h-1zM434 271h1v1h-1zM435 272h1v2h-1zM436 274h1v1h-1zM437 275h1v2h-1zM438 277h1v3h-1zM439 280h1v2h-1zM440 282h1v3h-1zM441 285h1v2h-1zM442 287h1v3h-1zM443 290h1v2h-1zM444 292h1v2h-1zM445 294h1v2h-1zM446 296h1v1h-1zM447 297h1v1h-1zM448 298h1v1h-1zM449 299h1v2h-1zM450 301h1v1h-1zM451 302h1v2h-1zM452 304h1v1h-1zM453 305h1v2h-1zM454 307h1v1h-1zM455 308h1v2h-1zM456 310h1v2h-1zM457 312h1v2h-1zM458 314h1v3h-1zM459 317h1v2h-1zM460 319h1v2h-1zM461 321h1v2h-1zM462 323h1v3h-1zM463 326h1v2h-1zM464 328h1v3h-1zM465 331h1v2h-1zM466 333h1v2h-1zM467 335h1v2h-1zM468 337h1v1h-1zM469 338h1v2h-1zM470 340h1v1h-1zM471 341h1v1h-1zM472 342h1v1h-1zM473 343h1v1h-1zM474 343h1v1h-1zM475 343h1v1h-1zM476 343h1v1h-1zM477 342h1v1h-1zM478 342h1v1h-1zM479 342h1v1h-1zM480 342h1v1h-1zM481 342h1v1h-1zM482 342h1v1h-1zM483 342h1v1h-1zM484 342h1v1h-1zM485 342h1v1h-1zM486 342h1v1h-1zM487 343h1v1h-1zM488 343h1v1h-1zM489 344h1v1h-1zM490 345h1v1h-1zM491 346h1v1h-1zM492 347h1v1h-1zM493 348h1v1h-1zM494 349h1v1h-1zM495 350h1v1h-1zM496 350h1v1h-1zM497 351h1v1h-1zM498 351h1v1h-1zM499 351h1v1h-1zM500 351h1v1h-1zM501 349h1v2h-1zM502 347h1v2h-1zM503 345h1v2h-1zM504 343h1v2h-1zM505 342h1v1h-1zM506 341h1v1h-1zM507 340h1v1h-1zM508 340h1v1h-1zM509 340h1v1h-1zM510 340h1v1h-1zM511 340h1v1h-1zM512 340h1v1h-1zM513 340h1v1h-1zM514 340h1v1h-1zM515 340h1v1h-1zM516 340h1v1h-1zM517 341h1v1h-1zM518 341h1v1h-1zM519 341h1v1h-1zM520 341h1v1h-1zM521 340h1v1h-1zM522 340h1v1h-1zM523 339h1v1h-1zM524 339h1v1h-1zM525 338h1v1h-1zM526 338h1v1h-1zM527 337h1v1h-1zM528 337h1v1h-1zM529 337h1v1h-1zM530 337h1v1h-1zM531 338h1v1h-1zM532 338h1v1h-1zM533 339h1v1h-1zM534 339h1v1h-1zM535 340h1v1h-1zM536 340h1v1h-1zM537 340h1v1h-1zM538 340h1v1h-1zM539 339h1v1h-1zM540 339h1v1h-1zM541 338h1v1h-1zM542 338h1v1h-1zM543 337h1v1h-1zM544 337h1v1h-1zM545 336h1v1h-1zM546 335h1v1h-1zM547 333h1v2h-1zM548 332h1v1h-1zM549 330h1v2h-1zM550 327h1v3h-1zM551 325h1v2h-1zM552 322h1v3h-1zM553 320h1v2h-1zM554 317h1v3h-1zM555 315h1v2h-1zM556 313h1v2h-1zM557 311h1v2h-1zM558 309h1v2h-1zM559 307h1v2h-1zM560 304h1v3h-1zM561 302h1v2h-1zM562 299h1v3h-1zM563 297h1v2h-1zM564 294h1v3h-1zM565 292h1v2h-1zM566 289h1v3h-1zM567 287h1v2h-1zM568 284h1v3h-1zM569 282h1v2h-1zM570 279h1v3h-1zM571 277h1v2h-1zM572 274h1v3h-1zM573 271h1v3h-1zM574 268h1v3h-1zM575 266h1v2h-1zM576 263h1v3h-1zM577 260h1v3h-1zM578 257h1v3h-1zM579 253h1v4h-1zM580 250h1v3h-1zM581 248h1v2h-1zM582 245h1v3h-1zM583 243h1v2h-1zM584 241h1v2h-1zM585 239h1v2h-1zM586 236h1v3h-1zM587 233h1v3h-1zM588 230h1v3h-1zM589 228h1v2h-1zM590 225h1v3h-1zM591 221h1v4h-1zM592 218h1v3h-1zM593 214h1v4h-1zM594 211h1v3h-1zM595 208h1v3h-1zM596 205h1v3h-1zM597 202h1v3h-1zM598 199h1v3h-1zM599 196h1v3h-1zM600 194h1v2h-1zM601 192h1v2h-1zM602 190h1v2h-1zM603 188h1v2h-1zM604 186h1v2h-1zM605 184h1v2h-1zM606 183h1v1h-1zM607 181h1v2h-1zM608 180h1v1h-1zM609 178h1v2h-1zM610 177h1v1h-1zM611 175h1v2h-1zM612 174h1v1h-1zM613 172h1v2h-1zM614 171h1v1h-1zM615 169h1v2h-1zM616 167h1v2h-1zM617 165h1v2h-1zM618 164h1v1h-1zM619 162h1v2h-1zM620 161h1v1h-1zM621 160h1v1h-1zM622 159h1v1h-1zM623 158h1v1h-1zM624 157h1v1h-1zM625 156h1v1h-1zM626 156h1v1h-1zM627 155h1v1h-1zM628 155h1v1h-1zM629 154h1v1h-1zM630 154h1v1h-1zM631 154h1v1h-1zM632 154h1v1h-1zM633 155h1v1h-1zM634 155h1v1h-1zM635 156h1v1h-1zM636 156h1v1h-1zM637 156h1v1h-1zM638 156h1v1h-1zM639 156h1v1h-1zM640 156h1v1h-1zM641 155h1v1h-1zM642 155h1v1h-1zM643 154h1v1h-1zM644 153h1v1h-1zM645 152h1v1h-1zM646 151h1v1h-1zM647 150h1v1h-1zM648 149h1v1h-1zM649 147h1v2h-1zM650 146h1v1h-1zM651 144h1v2h-1zM652 143h1v1h-1zM653 141h1v2h-1zM654 139h1v2h-1zM655 137h1v2h-1zM656 134h1v3h-1zM657 132h1v2h-1zM658 129h1v3h-1zM659 126h1v3h-1zM660 123h1v3h-1zM661 120h1v3h-1zM662 117h1v3h-1zM663 115h1v2h-1zM664 113h1v2h-1zM665 111h1v2h-1zM666 109h1v2h-1zM667 107h1v2h-1zM668 106h1v1h-1zM669 104h1v2h-1zM670 102h1v2h-1zM671 100h1v2h-1zM672 99h1v1h-1zM673 97h1v2h-1zM674 96h1v1h-1zM675 94h1v2h-1zM676 92h1v2h-1zM677 90h1v2h-1zM678 88h1v2h-1zM679 87h1v1h-1zM680 87h1v1h-1zM681 88h1v1h-1zM682 89h1v1h-1zM683 90h1v2h-1zM684 92h1v3h-1zM685 95h1v2h-1zM686 97h1v2h-1zM687 99h1v2h-1zM688 101h1v3h-1zM689 104h1v2h-1zM690 106h1v3h-1zM691 109h1v2h-1zM692 111h1v2h-1zM693 113h1v2h-1zM694 115h1v3h-1zM695 118h1v2h-1zM696 120h1v3h-1zM697 123h1v3h-1zM698 126h1v3h-1zM699 129h1v4h-1zM700 133h1v4h-1zM701 137h1v4h-1zM702 141h1v4h-1zM703 145h1v4h-1zM704 149h1v3h-1zM705 152h1v4h-1zM706 156h1v3h-1zM707 159h1v3h-1zM708 162h1v3h-1zM709 165h1v3h-1zM710 168h1v3h-1zM711 171h1v3h-1zM712 174h1v4h-1zM713 178h1v4h-1zM714 182h1v5h-1zM715 187h1v6h-1zM716 193h1v5h-1zM717 198h1v5h-1zM718 203h1v5h-1zM719 208h1v4h-1zM720 212h1v4h-1zM721 216h1v4h-1zM722 220h1v3h-1zM723 223h1v2h-1zM724 225h1v2h-1zM725 227h1v2h-1zM726 229h1v1h-1zM727 230h1v1h-1zM728 231h1v1h-1zM729 232h1v1h-1zM730 233h1v1h-1zM731 234h1v2h-1zM732 236h1v2h-1zM733 238h1v2h-1zM734 240h1v1h-1zM735 241h1v2h-1zM736 243h1v1h-1zM737 244h1v2h-1zM738 246h1v1h-1zM739 247h1v1h-1zM740 248h1v1h-1zM741 249h1v1h-1zM742 250h1v1h-1zM743 251h1v1h-1zM744 251h1v1h-1zM745 252h1v1h-1zM746 253h1v1h-1zM747 254h1v1h-1zM748 254h1v1h-1zM749 255h1v1h-1zM750 256h1v1h-1zM751 257h1v1h-1zM752 257h1v1h-1zM753 256h1v1h-1zM754 255h1v1h-1zM755 253h1v2h-1zM756 252h1v1h-1zM757 250h1v2h-1zM758 249h1v1h-1zM759 248h1v1h-1zM760 247h1v1h-1zM761 245h1v2h-1zM762 244h1v1h-1zM763 242h1v2h-1zM764 241h1v1h-1zM765 240h1v1h-1zM766 239h1v1h-1zM767 237h1v2h-1zM768 236h1v1h-1zM769 234h1v2h-1zM770 233h1v1h-1zM771 232h1v1h-1zM772 231h1v1h-1zM773 229h1v2h-1zM774 228h1v1h-1zM775 226h1v2h-1zM776 225h1v1h-1zM777 224h1v1h-1zM778 223h1v1h-1zM779 221h1v2h-1zM780 220h1v1h-1zM781 219h1v1h-1zM782 219h1v1h-1zM783 220h1v1h-1zM784 220h1v1h-1zM785 221h1v1h-1zM786 221h1v1h-1zM787 220h1v1h-1zM788 220h1v1h-1zM789 219h1v1h-1zM790 218h1v1h-1zM791 217h1v1h-1zM792 216h1v1h-1zM793 214h1v2h-1zM794 213h1v1h-1zM795 212h1v1h-1zM796 211h1v1h-1zM797 210h1v1h-1zM798 210h1v1h-1zM799 211h1v1h-1zM800 211h1v1h-1zM801 212h1v1h-1zM802 213h1v1h-1zM803 213h1v1h-1zM804 213h1v1h-1zM805 214h1v1h-1zM806 215h1v1h-1zM807 216h1v1h-1zM808 217h1v1h-1zM809 218h1v1h-1zM810 219h1v1h-1zM811 220h1v1h-1zM812 220h1v1h-1zM813 221h1v1h-1zM814 222h1v1h-1zM815 223h1v1h-1zM816 223h1v1h-1zM817 223h1v1h-1zM818 223h1v1h-1zM819 223h1v1h-1zM820 223h1v1h-1zM821 223h1v1h-1zM822 223h1v1h-1zM823 223h1v1h-1zM824 223h1v1h-1zM825 222h1v1h-1zM826 222h1v1h-1zM827 222h1v1h-1zM828 222h1v1h-1zM829 221h1v1h-1zM830 220h1v1h-1zM831 219h1v1h-1zM832 219h1v1h-1zM833 218h1v1h-1zM834 218h1v1h-1zM835 218h1v1h-1zM836 218h1v1h-1zM837 219h1v1h-1zM838 219h1v1h-1zM839 218h1v1h-1zM840 218h1v1h-1zM841 217h1v1h-1zM842 217h1v1h-1zM843 216h1v1h-1zM844 216h1v1h-1zM845 215h1v1h-1zM846 215h1v1h-1zM847 214h1v1h-1zM848 214h1v1h-1zM849 213h1v1h-1zM850 213h1v1h-1zM851 212h1v1h-1zM852 212h1v1h-1zM853 211h1v1h-1zM854 211h1v1h-1zM855 212h1v1h-1zM856 213h1v1h-1zM857 214h1v1h-1zM858 215h1v1h-1zM859 216h1v1h-1zM860 217h1v1h-1zM861 218h1v2h-1zM862 220h1v1h-1zM863 221h1v1h-1zM864 221h1v1h-1zM865 221h1v1h-1zM866 221h1v1h-1zM867 221h1v1h-1zM868 221h1v1h-1zM869 220h1v1h-1zM870 220h1v1h-1zM871 219h1v1h-1zM872 219h1v1h-1zM873 219h1v1h-1zM874 219h1v1h-1zM875 220h1v1h-1zM876 220h1v1h-1zM877 221h1v1h-1zM878 221h1v1h-1zM879 222h1v1h-1zM880 223h1v1h-1zM881 224h1v1h-1zM882 225h1v1h-1zM883 226h1v2h-1zM884 228h1v2h-1zM885 230h1v1h-1zM886 231h1v1h-1zM887 232h1v1h-1zM888 232h1v1h-1zM889 231h1v1h-1zM890 231h1v1h-1zM891 232h1v1h-1zM892 232h1v1h-1zM893 233h1v1h-1zM894 233h1v1h-1zM895 232h1v1h-1zM896 231h1v1h-1zM897 229h1v2h-1zM898 228h1v1h-1zM899 227h1v1h-1zM900 226h1v1h-1zM901 225h1v1h-1zM902 225h1v1h-1zM903 224h1v1h-1zM904 224h1v1h-1zM905 225h1v1h-1zM906 225h1v1h-1zM907 226h1v1h-1zM908 226h1v1h-1zM909 227h1v2h-1zM910 229h1v1h-1zM911 230h1v1h-1zM912 231h1v1h-1zM913 232h1v1h-1zM914 233h1v1h-1zM915 234h1v2h-1zM916 236h1v1h-1zM917 237h1v2h-1zM918 239h1v1h-1zM919 240h1v1h-1zM920 241h1v1h-1zM921 242h1v2h-1zM922 244h1v1h-1zM923 245h1v1h-1zM924 246h1v1h-1zM925 247h1v1h-1zM926 248h1v1h-1zM927 249h1v1h-1zM928 249h1v1h-1z" fill="#0000cd" shape-rendering="crispEdges"/>
</g>
<rect x="1167" y="38" width="2" height="1" fill="#000" />
<text x="1171.6" y="42" font-size="9.7" fill="#000" text-anchor="start" font-weight="normal" textLength="34.2" lengthAdjust="spacingAndGlyphs"  stroke="#000" stroke-width="0.15">0.93775</text>
<rect x="1167" y="71" width="2" height="1" fill="#000" />
<text x="1171.6" y="75" font-size="9.7" fill="#000" text-anchor="start" font-weight="normal" textLength="34.2" lengthAdjust="spacingAndGlyphs"  stroke="#000" stroke-width="0.15">0.93505</text>
<rect x="1167" y="104" width="2" height="1" fill="#000" />
<text x="1171.6" y="108" font-size="9.7" fill="#000" text-anchor="start" font-weight="normal" textLength="34.2" lengthAdjust="spacingAndGlyphs"  stroke="#000" stroke-width="0.15">0.93235</text>
<rect x="1167" y="137" width="2" height="1" fill="#000" />
<text x="1171.6" y="141" font-size="9.7" fill="#000" text-anchor="start" font-weight="normal" textLength="34.2" lengthAdjust="spacingAndGlyphs"  stroke="#000" stroke-width="0.15">0.92965</text>
<rect x="1167" y="170" width="2" height="1" fill="#000" />
<text x="1171.6" y="174" font-size="9.7" fill="#000" text-anchor="start" font-weight="normal" textLength="34.2" lengthAdjust="spacingAndGlyphs"  stroke="#000" stroke-width="0.15">0.92695</text>
<rect x="1167" y="203" width="2" height="1" fill="#000" />
<text x="1171.6" y="207" font-size="9.7" fill="#000" text-anchor="start" font-weight="normal" textLength="34.2" lengthAdjust="spacingAndGlyphs"  stroke="#000" stroke-width="0.15">0.92425</text>
<rect x="1167" y="236" width="2" height="1" fill="#000" />
<text x="1171.6" y="240" font-size="9.7" fill="#000" text-anchor="start" font-weight="normal" textLength="34.2" lengthAdjust="spacingAndGlyphs"  stroke="#000" stroke-width="0.15">0.92155</text>
<rect x="1167" y="269" width="2" height="1" fill="#000" />
<text x="1171.6" y="273" font-size="9.7" fill="#000" text-anchor="start" font-weight="normal" textLength="34.2" lengthAdjust="spacingAndGlyphs"  stroke="#000" stroke-width="0.15">0.91885</text>
<rect x="1167" y="302" width="2" height="1" fill="#000" />
<text x="1171.6" y="306" font-size="9.7" fill="#000" text-anchor="start" font-weight="normal" textLength="34.2" lengthAdjust="spacingAndGlyphs"  stroke="#000" stroke-width="0.15">0.91620</text>
<rect x="1167" y="335" width="2" height="1" fill="#000" />
<text x="1171.6" y="339" font-size="9.7" fill="#000" text-anchor="start" font-weight="normal" textLength="34.2" lengthAdjust="spacingAndGlyphs"  stroke="#000" stroke-width="0.15">0.91350</text>
<rect x="1167" y="368" width="2" height="1" fill="#000" />
<text x="1171.6" y="372" font-size="9.7" fill="#000" text-anchor="start" font-weight="normal" textLength="34.2" lengthAdjust="spacingAndGlyphs"  stroke="#000" stroke-width="0.15">0.91080</text>
<rect x="1167" y="401" width="2" height="1" fill="#000" />
<text x="1171.6" y="405" font-size="9.7" fill="#000" text-anchor="start" font-weight="normal" textLength="34.2" lengthAdjust="spacingAndGlyphs"  stroke="#000" stroke-width="0.15">0.90810</text>
<rect x="4" y="131" width="1162" height="2" fill="#ff0000" shape-rendering="crispEdges"/>
<rect x="3" y="129" width="6" height="6" fill="#ff0000" />
<rect x="5" y="131" width="2" height="2" fill="#fff" />
<rect x="1160" y="129" width="6" height="6" fill="#ff0000" />
<rect x="1162" y="131" width="2" height="2" fill="#fff" />
<rect x="4" y="205" width="1162" height="2" fill="#ff0000" shape-rendering="crispEdges"/>
<rect x="3" y="203" width="6" height="6" fill="#ff0000" />
<rect x="5" y="205" width="2" height="2" fill="#fff" />
<rect x="1160" y="203" width="6" height="6" fill="#ff0000" />
<rect x="1162" y="205" width="2" height="2" fill="#fff" />
<rect x="4" y="352" width="1162" height="2" fill="#0000ff" shape-rendering="crispEdges"/>
<rect x="1168" y="268" width="37" height="11" fill="#000" />
<text x="1171.6" y="277" font-size="9.7" fill="#fff" text-anchor="start" font-weight="normal" textLength="34.2" lengthAdjust="spacingAndGlyphs" >0.91859</text>
<rect x="4" y="279" width="1162" height="2" fill="#00ff00" shape-rendering="crispEdges"/>
<rect x="3" y="277" width="6" height="6" fill="#00ff00" />
<rect x="5" y="279" width="2" height="2" fill="#fff" />
<rect x="1160" y="277" width="6" height="6" fill="#00ff00" />
<rect x="1162" y="279" width="2" height="2" fill="#fff" />
<rect x="1168" y="126" width="37" height="11" fill="#ff0000" />
<text x="1171.6" y="135" font-size="9.7" fill="#fff" text-anchor="start" font-weight="normal" textLength="34.2" lengthAdjust="spacingAndGlyphs" >0.93006</text>
<rect x="1168" y="200" width="37" height="11" fill="#ff0000" />
<text x="1171.6" y="209" font-size="9.7" fill="#fff" text-anchor="start" font-weight="normal" textLength="34.2" lengthAdjust="spacingAndGlyphs" >0.92403</text>
<rect x="1168" y="274" width="37" height="11" fill="#00ff00" />
<text x="1171.6" y="283" font-size="9.7" fill="#fff" text-anchor="start" font-weight="normal" textLength="34.2" lengthAdjust="spacingAndGlyphs" >0.91800</text>
<rect x="1168" y="347" width="37" height="11" fill="#0000ff" />
<text x="1171.6" y="356" font-size="9.7" fill="#fff" text-anchor="start" font-weight="normal" textLength="34.2" lengthAdjust="spacingAndGlyphs" >0.91206</text>
<path d="M7 36.6 L14 36.6 L10.5 32 Z" fill="#000"/>
<text x="19" y="36.6" font-size="9.7" fill="#000" text-anchor="start" font-weight="normal" textLength="205" lengthAdjust="spacingAndGlyphs"  stroke="#000" stroke-width="0.15">USDCHF-,H4&#160; 0.91897 0.91961 0.91658 0.91859</text>
<path d="M3 428h2V444h-2zM5 428h2V444h-2zM7 428h2V444h-2zM9 430h2V444h-2zM11 432h2V444h-2zM13 435h2V444h-2zM15 437h2V444h-2zM17 440h2V444h-2zM19 442h2V444h-2zM21 443h2V444h-2zM23 443h2V444h-2zM25 443h2V444h-2zM27 443h2V444h-2zM29 443h2V444h-2zM31 443h2V444h-2zM33 440h2V444h-2zM35 437h2V444h-2zM37 435h2V444h-2zM39 434h2V444h-2zM41 433h2V444h-2zM43 432h2V444h-2zM45 433h2V444h-2zM47 433h2V444h-2zM49 434h2V444h-2zM51 436h2V444h-2zM53 437h2V444h-2zM55 439h2V444h-2zM57 440h2V444h-2zM59 442h2V444h-2zM61 442h2V444h-2zM63 443h2V444h-2zM65 443h2V444h-2zM67 442h2V444h-2zM69 440h2V444h-2zM71 436h2V444h-2zM73 433h2V444h-2zM75 430h2V444h-2zM77 428h2V444h-2zM79 427h2V444h-2zM81 426h2V444h-2zM83 423h2V444h-2zM85 421h2V444h-2zM87 419h2V444h-2zM89 418h2V444h-2zM91 417h2V444h-2zM93 417h2V444h-2zM95 417h2V444h-2zM97 419h2V444h-2zM99 421h2V444h-2zM101 423h2V444h-2zM103 425h2V444h-2zM105 428h2V444h-2zM107 432h2V444h-2zM109 436h2V444h-2zM111 439h2V444h-2zM113 442h2V444h-2zM115 444h2V445h-2zM117 444h2V448h-2zM119 444h2V449h-2zM121 444h2V449h-2zM123 444h2V447h-2zM125 444h2V446h-2zM149 443h2V444h-2zM151 442h2V444h-2zM153 441h2V444h-2zM155 440h2V444h-2zM157 440h2V444h-2zM159 439h2V444h-2zM161 439h2V444h-2zM163 439h2V444h-2zM165 438h2V444h-2zM167 438h2V444h-2zM169 437h2V444h-2zM171 436h2V444h-2zM173 435h2V444h-2zM175 434h2V444h-2zM177 433h2V444h-2zM179 431h2V444h-2zM181 429h2V444h-2zM183 427h2V444h-2zM185 425h2V444h-2zM187 424h2V444h-2zM189 423h2V444h-2zM191 422h2V444h-2zM193 422h2V444h-2zM195 423h2V444h-2zM197 425h2V444h-2zM199 427h2V444h-2zM201 430h2V444h-2zM203 432h2V444h-2zM205 434h2V444h-2zM207 436h2V444h-2zM209 438h2V444h-2zM211 440h2V444h-2zM213 443h2V444h-2zM215 444h2V446h-2zM217 444h2V449h-2zM219 444h2V451h-2zM221 444h2V453h-2zM223 444h2V455h-2zM225 444h2V456h-2zM227 444h2V455h-2zM229 444h2V454h-2zM231 444h2V452h-2zM233 444h2V450h-2zM235 444h2V448h-2zM237 444h2V447h-2zM239 444h2V447h-2zM241 444h2V447h-2zM243 444h2V447h-2zM245 444h2V448h-2zM247 444h2V448h-2zM249 444h2V449h-2zM251 444h2V449h-2zM253 444h2V449h-2zM255 444h2V448h-2zM257 444h2V447h-2zM259 444h2V446h-2zM261 444h2V445h-2zM263 444h2V445h-2zM265 444h2V445h-2zM267 444h2V445h-2zM269 444h2V445h-2zM271 444h2V446h-2zM273 444h2V447h-2zM275 444h2V448h-2zM277 444h2V447h-2zM279 444h2V447h-2zM281 444h2V446h-2zM283 444h2V446h-2zM285 444h2V445h-2zM287 443h2V444h-2zM289 442h2V444h-2zM291 441h2V444h-2zM293 440h2V444h-2zM295 441h2V444h-2zM297 442h2V444h-2zM301 444h2V448h-2zM303 444h2V451h-2zM305 444h2V454h-2zM307 444h2V456h-2zM309 444h2V458h-2zM311 444h2V459h-2zM313 444h2V459h-2zM315 444h2V459h-2zM317 444h2V458h-2zM319 444h2V458h-2zM321 444h2V457h-2zM323 444h2V457h-2zM325 444h2V456h-2zM327 444h2V456h-2zM329 444h2V455h-2zM331 444h2V454h-2zM333 444h2V453h-2zM335 444h2V453h-2zM337 444h2V453h-2zM339 444h2V453h-2zM341 444h2V454h-2zM343 444h2V456h-2zM345 444h2V457h-2zM347 444h2V458h-2zM349 444h2V456h-2zM351 444h2V455h-2zM353 444h2V453h-2zM355 444h2V452h-2zM357 444h2V450h-2zM359 444h2V451h-2zM361 444h2V452h-2zM363 444h2V453h-2zM365 444h2V454h-2zM367 444h2V456h-2zM369 444h2V457h-2zM371 444h2V458h-2zM373 444h2V459h-2zM375 444h2V460h-2zM377 444h2V461h-2zM379 444h2V461h-2zM381 444h2V461h-2zM383 444h2V461h-2zM385 444h2V462h-2zM387 444h2V462h-2zM389 444h2V461h-2zM391 444h2V461h-2zM393 444h2V460h-2zM395 444h2V458h-2zM397 444h2V456h-2zM399 444h2V454h-2zM401 444h2V451h-2zM403 444h2V449h-2zM405 444h2V448h-2zM407 444h2V447h-2zM409 444h2V446h-2zM411 444h2V446h-2zM413 444h2V446h-2zM415 444h2V446h-2zM417 444h2V446h-2zM419 444h2V446h-2zM421 444h2V447h-2zM423 444h2V447h-2zM425 444h2V447h-2zM427 444h2V448h-2zM429 444h2V449h-2zM431 444h2V452h-2zM433 444h2V455h-2zM435 444h2V458h-2zM437 444h2V461h-2zM439 444h2V463h-2zM441 444h2V464h-2zM443 444h2V465h-2zM445 444h2V462h-2zM447 444h2V460h-2zM449 444h2V457h-2zM451 444h2V455h-2zM453 444h2V455h-2zM455 444h2V457h-2zM457 444h2V460h-2zM459 444h2V462h-2zM461 444h2V463h-2zM463 444h2V464h-2zM465 444h2V462h-2zM467 444h2V461h-2zM469 444h2V458h-2zM471 444h2V456h-2zM473 444h2V454h-2zM475 444h2V453h-2zM477 444h2V453h-2zM479 444h2V453h-2zM481 444h2V454h-2zM483 444h2V453h-2zM485 444h2V452h-2zM487 444h2V452h-2zM489 444h2V451h-2zM491 444h2V450h-2zM493 444h2V450h-2zM495 444h2V449h-2zM497 444h2V448h-2zM499 444h2V447h-2zM501 444h2V446h-2zM503 444h2V446h-2zM505 444h2V446h-2zM507 444h2V445h-2zM509 444h2V445h-2zM527 444h2V445h-2zM529 444h2V445h-2zM531 444h2V447h-2zM533 444h2V449h-2zM535 444h2V448h-2zM537 444h2V448h-2zM539 444h2V446h-2zM543 440h2V444h-2zM545 437h2V444h-2zM547 433h2V444h-2zM549 431h2V444h-2zM551 428h2V444h-2zM553 426h2V444h-2zM555 424h2V444h-2zM557 423h2V444h-2zM559 422h2V444h-2zM561 422h2V444h-2zM563 422h2V444h-2zM565 423h2V444h-2zM567 425h2V444h-2zM569 426h2V444h-2zM571 428h2V444h-2zM573 429h2V444h-2zM575 428h2V444h-2zM577 428h2V444h-2zM579 427h2V444h-2zM581 426h2V444h-2zM583 425h2V444h-2zM585 423h2V444h-2zM587 421h2V444h-2zM589 418h2V444h-2zM591 415h2V444h-2zM593 412h2V444h-2zM595 411h2V444h-2zM597 411h2V444h-2zM599 411h2V444h-2zM601 413h2V444h-2zM603 415h2V444h-2zM605 418h2V444h-2zM607 421h2V444h-2zM609 424h2V444h-2zM611 427h2V444h-2zM613 430h2V444h-2zM615 431h2V444h-2zM617 433h2V444h-2zM619 434h2V444h-2zM621 435h2V444h-2zM623 436h2V444h-2zM625 436h2V444h-2zM627 436h2V444h-2zM629 436h2V444h-2zM631 436h2V444h-2zM633 435h2V444h-2zM635 434h2V444h-2zM637 431h2V444h-2zM639 429h2V444h-2zM641 428h2V444h-2zM643 428h2V444h-2zM645 427h2V444h-2zM647 427h2V444h-2zM649 427h2V444h-2zM651 427h2V444h-2zM653 426h2V444h-2zM655 425h2V444h-2zM657 424h2V444h-2zM659 424h2V444h-2zM661 424h2V444h-2zM663 424h2V444h-2zM665 425h2V444h-2zM667 426h2V444h-2zM669 426h2V444h-2zM671 427h2V444h-2zM673 427h2V444h-2zM675 427h2V444h-2zM677 428h2V444h-2zM679 431h2V444h-2zM681 439h2V444h-2zM683 444h2V446h-2zM685 444h2V452h-2zM687 444h2V456h-2zM689 444h2V458h-2zM691 444h2V459h-2zM693 444h2V460h-2zM695 444h2V461h-2zM697 444h2V462h-2zM699 444h2V464h-2zM701 444h2V466h-2zM703 444h2V468h-2zM705 444h2V470h-2zM707 444h2V471h-2zM709 444h2V472h-2zM711 444h2V472h-2zM713 444h2V471h-2zM715 444h2V471h-2zM717 444h2V471h-2zM719 444h2V471h-2zM721 444h2V470h-2zM723 444h2V469h-2zM725 444h2V468h-2zM727 444h2V467h-2zM729 444h2V466h-2zM731 444h2V465h-2zM733 444h2V463h-2zM735 444h2V462h-2zM737 444h2V461h-2zM739 444h2V460h-2zM741 444h2V459h-2zM743 444h2V458h-2zM745 444h2V457h-2zM747 444h2V457h-2zM749 444h2V457h-2zM751 444h2V456h-2zM753 444h2V454h-2zM755 444h2V450h-2zM757 444h2V445h-2zM759 441h2V444h-2zM761 440h2V444h-2zM763 439h2V444h-2zM765 438h2V444h-2zM767 437h2V444h-2zM769 436h2V444h-2zM771 437h2V444h-2zM773 437h2V444h-2zM775 438h2V444h-2zM777 439h2V444h-2zM779 440h2V444h-2zM781 443h2V444h-2zM783 444h2V445h-2zM785 444h2V447h-2zM787 444h2V448h-2zM789 444h2V448h-2zM791 444h2V447h-2zM793 444h2V445h-2zM797 443h2V444h-2zM799 442h2V444h-2zM801 442h2V444h-2zM803 443h2V444h-2zM805 443h2V444h-2zM807 444h2V445h-2zM809 444h2V446h-2zM811 444h2V447h-2zM813 444h2V446h-2zM815 444h2V446h-2zM817 444h2V445h-2zM819 444h2V445h-2zM821 444h2V445h-2zM823 444h2V446h-2zM825 444h2V446h-2zM827 444h2V446h-2zM829 444h2V445h-2zM833 443h2V444h-2zM835 442h2V444h-2zM837 440h2V444h-2zM839 439h2V444h-2zM841 438h2V444h-2zM843 439h2V444h-2zM845 439h2V444h-2zM847 440h2V444h-2zM849 441h2V444h-2zM851 442h2V444h-2zM853 444h2V445h-2zM855 444h2V448h-2zM857 444h2V450h-2zM859 444h2V452h-2zM861 444h2V453h-2zM863 444h2V452h-2zM865 444h2V452h-2zM867 444h2V450h-2zM869 444h2V448h-2zM871 444h2V447h-2zM873 444h2V446h-2zM875 444h2V445h-2zM877 444h2V445h-2zM879 444h2V446h-2zM881 444h2V446h-2zM883 444h2V446h-2zM885 444h2V445h-2zM887 444h2V445h-2zM891 443h2V444h-2zM893 442h2V444h-2zM895 442h2V444h-2zM897 443h2V444h-2zM901 444h2V445h-2zM903 444h2V447h-2zM905 444h2V449h-2zM907 444h2V451h-2zM909 444h2V451h-2zM911 444h2V452h-2zM913 444h2V453h-2zM915 444h2V454h-2zM917 444h2V456h-2zM919 444h2V457h-2zM921 444h2V457h-2zM923 444h2V457h-2zM925 444h2V457h-2zM927 444h2V456h-2z" fill="#c0c0c0" shape-rendering="crispEdges"/>
<path d="M4 435h1v1h-1zM5 434h1v1h-1zM6 433h1v1h-1zM7 432h1v1h-1zM8 432h1v1h-1zM9 431h1v1h-1zM10 431h1v1h-1zM11 430h1v1h-1zM12 430h1v1h-1zM13 430h1v1h-1zM14 430h1v1h-1zM15 431h1v1h-1zM16 431h1v1h-1zM17 432h1v1h-1zM18 432h1v1h-1zM19 433h1v1h-1zM20 433h1v1h-1zM21 434h1v1h-1zM22 435h1v1h-1zM23 436h1v1h-1zM24 436h1v1h-1zM25 437h1v1h-1zM26 438h1v1h-1zM27 439h1v1h-1zM28 440h1v1h-1zM29 441h1v1h-1zM30 441h1v1h-1zM31 442h1v1h-1zM32 442h1v1h-1zM33 442h1v1h-1zM34 442h1v1h-1zM35 442h1v1h-1zM36 442h1v1h-1zM37 441h1v1h-1zM38 441h1v1h-1zM39 440h1v1h-1zM40 440h1v1h-1zM41 439h1v1h-1zM42 439h1v1h-1zM43 438h1v1h-1zM44 438h1v1h-1zM45 437h1v1h-1zM46 436h1v1h-1zM47 435h1v1h-1zM48 435h1v1h-1zM49 434h1v1h-1zM50 434h1v1h-1zM51 434h1v1h-1zM52 434h1v1h-1zM53 434h1v1h-1zM54 434h1v1h-1zM55 435h1v1h-1zM56 435h1v1h-1zM57 435h1v1h-1zM58 435h1v1h-1zM59 436h1v1h-1zM60 436h1v1h-1zM61 437h1v1h-1zM62 437h1v1h-1zM63 438h1v1h-1zM64 438h1v1h-1zM65 439h1v1h-1zM66 439h1v1h-1zM67 440h1v1h-1zM68 440h1v1h-1zM69 441h1v1h-1zM70 441h1v1h-1zM71 440h1v1h-1zM72 440h1v1h-1zM73 439h1v1h-1zM74 439h1v1h-1zM75 438h1v1h-1zM76 438h1v1h-1zM77 437h1v1h-1zM78 436h1v1h-1zM79 435h1v1h-1zM80 434h1v1h-1zM81 433h1v1h-1zM82 432h1v1h-1zM83 431h1v1h-1zM84 430h1v1h-1zM85 428h1v2h-1zM86 427h1v1h-1zM87 426h1v1h-1zM88 425h1v1h-1zM89 424h1v1h-1zM90 423h1v1h-1zM91 422h1v1h-1zM92 421h1v1h-1zM93 420h1v1h-1zM94 419h1v1h-1zM95 418h1v1h-1zM96 418h1v1h-1zM97 417h1v1h-1zM98 417h1v1h-1zM99 417h1v1h-1zM100 417h1v1h-1zM101 418h1v1h-1zM102 418h1v1h-1zM103 418h1v1h-1zM104 418h1v1h-1zM105 419h1v1h-1zM106 420h1v1h-1zM107 421h1v1h-1zM108 422h1v1h-1zM109 423h1v2h-1zM110 425h1v1h-1zM111 426h1v1h-1zM112 427h1v1h-1zM113 428h1v2h-1zM114 430h1v1h-1zM115 431h1v2h-1zM116 433h1v1h-1zM117 434h1v2h-1zM118 436h1v1h-1zM119 437h1v1h-1zM120 438h1v1h-1zM121 439h1v2h-1zM122 441h1v1h-1zM123 442h1v1h-1zM124 443h1v1h-1zM125 444h1v1h-1zM126 444h1v1h-1zM127 445h1v1h-1zM128 445h1v1h-1zM129 446h1v1h-1zM130 446h1v1h-1zM131 446h1v1h-1zM132 446h1v1h-1zM133 446h1v1h-1zM134 446h1v1h-1zM135 446h1v1h-1zM136 446h1v1h-1zM137 446h1v1h-1zM138 446h1v1h-1zM139 446h1v1h-1zM140 446h1v1h-1zM141 446h1v1h-1zM142 446h1v1h-1zM143 446h1v1h-1zM144 446h1v1h-1zM145 446h1v1h-1zM146 446h1v1h-1zM147 446h1v1h-1zM148 446h1v1h-1zM149 446h1v1h-1zM150 446h1v1h-1zM151 446h1v1h-1zM152 446h1v1h-1zM153 445h1v1h-1zM154 445h1v1h-1zM155 444h1v1h-1zM156 444h1v1h-1zM157 444h1v1h-1zM158 444h1v1h-1zM159 443h1v1h-1zM160 443h1v1h-1zM161 442h1v1h-1zM162 442h1v1h-1zM163 442h1v1h-1zM164 442h1v1h-1zM165 441h1v1h-1zM166 441h1v1h-1zM167 441h1v1h-1zM168 441h1v1h-1zM169 440h1v1h-1zM170 440h1v1h-1zM171 439h1v1h-1zM172 439h1v1h-1zM173 439h1v1h-1zM174 439h1v1h-1zM175 438h1v1h-1zM176 438h1v1h-1zM177 437h1v1h-1zM178 437h1v1h-1zM179 436h1v1h-1zM180 436h1v1h-1zM181 435h1v1h-1zM182 435h1v1h-1zM183 434h1v1h-1zM184 434h1v1h-1zM185 433h1v1h-1zM186 432h1v1h-1zM187 431h1v1h-1zM188 431h1v1h-1zM189 430h1v1h-1zM190 429h1v1h-1zM191 428h1v1h-1zM192 428h1v1h-1zM193 427h1v1h-1zM194 427h1v1h-1zM195 426h1v1h-1zM196 426h1v1h-1zM197 425h1v1h-1zM198 425h1v1h-1zM199 425h1v1h-1zM200 425h1v1h-1zM201 425h1v1h-1zM202 425h1v1h-1zM203 426h1v1h-1zM204 426h1v1h-1zM205 427h1v1h-1zM206 427h1v1h-1zM207 428h1v1h-1zM208 428h1v1h-1zM209 429h1v1h-1zM210 430h1v1h-1zM211 431h1v1h-1zM212 432h1v1h-1zM213 433h1v1h-1zM214 434h1v1h-1zM215 435h1v1h-1zM216 436h1v1h-1zM217 437h1v1h-1zM218 438h1v1h-1zM219 439h1v2h-1zM220 441h1v1h-1zM221 442h1v1h-1zM222 443h1v1h-1zM223 444h1v1h-1zM224 445h1v1h-1zM225 446h1v1h-1zM226 447h1v1h-1zM227 448h1v1h-1zM228 449h1v1h-1zM229 450h1v1h-1zM230 451h1v1h-1zM231 452h1v1h-1zM232 452h1v1h-1zM233 453h1v1h-1zM234 453h1v1h-1zM235 453h1v1h-1zM236 453h1v1h-1zM237 452h1v1h-1zM238 452h1v1h-1zM239 451h1v1h-1zM240 451h1v1h-1zM241 450h1v1h-1zM242 450h1v1h-1zM243 449h1v1h-1zM244 449h1v1h-1zM245 448h1v1h-1zM246 448h1v1h-1zM247 448h1v1h-1zM248 448h1v1h-1zM249 448h1v1h-1zM250 448h1v1h-1zM251 448h1v1h-1zM252 448h1v1h-1zM253 448h1v1h-1zM254 448h1v1h-1zM255 447h1v1h-1zM256 447h1v1h-1zM257 447h1v1h-1zM258 447h1v1h-1zM259 446h1v1h-1zM260 446h1v1h-1zM261 446h1v1h-1zM262 446h1v1h-1zM263 446h1v1h-1zM264 446h1v1h-1zM265 446h1v1h-1zM266 446h1v1h-1zM267 445h1v1h-1zM268 445h1v1h-1zM269 445h1v1h-1zM270 445h1v1h-1zM271 445h1v1h-1zM272 445h1v1h-1zM273 445h1v1h-1zM274 445h1v1h-1zM275 445h1v1h-1zM276 445h1v1h-1zM277 446h1v1h-1zM278 446h1v1h-1zM279 446h1v1h-1zM280 446h1v1h-1zM281 446h1v1h-1zM282 446h1v1h-1zM283 447h1v1h-1zM284 447h1v1h-1zM285 447h1v1h-1zM286 447h1v1h-1zM287 446h1v1h-1zM288 446h1v1h-1zM289 446h1v1h-1zM290 446h1v1h-1zM291 445h1v1h-1zM292 445h1v1h-1zM293 444h1v1h-1zM294 444h1v1h-1zM295 443h1v1h-1zM296 443h1v1h-1zM297 443h1v1h-1zM298 443h1v1h-1zM299 442h1v1h-1zM300 442h1v1h-1zM301 442h1v1h-1zM302 442h1v1h-1zM303 442h1v1h-1zM304 442h1v1h-1zM305 443h1v1h-1zM306 443h1v1h-1zM307 444h1v1h-1zM308 444h1v1h-1zM309 445h1v1h-1zM310 446h1v1h-1zM311 447h1v1h-1zM312 448h1v1h-1zM313 449h1v2h-1zM314 451h1v1h-1zM315 452h1v1h-1zM316 453h1v1h-1zM317 454h1v1h-1zM318 454h1v1h-1zM319 455h1v1h-1zM320 456h1v1h-1zM321 457h1v1h-1zM322 457h1v1h-1zM323 458h1v1h-1zM324 458h1v1h-1zM325 458h1v1h-1zM326 458h1v1h-1zM327 457h1v1h-1zM328 457h1v1h-1zM329 456h1v1h-1zM330 456h1v1h-1zM331 456h1v1h-1zM332 456h1v1h-1zM333 455h1v1h-1zM334 455h1v1h-1zM335 454h1v1h-1zM336 454h1v1h-1zM337 454h1v1h-1zM338 454h1v1h-1zM339 453h1v1h-1zM340 453h1v1h-1zM341 453h1v1h-1zM342 453h1v1h-1zM343 453h1v1h-1zM344 453h1v1h-1zM345 453h1v1h-1zM346 453h1v1h-1zM347 453h1v1h-1zM348 453h1v1h-1zM349 453h1v1h-1zM350 453h1v1h-1zM351 453h1v1h-1zM352 453h1v1h-1zM353 453h1v1h-1zM354 453h1v1h-1zM355 453h1v1h-1zM356 453h1v1h-1zM357 453h1v1h-1zM358 453h1v1h-1zM359 452h1v1h-1zM360 452h1v1h-1zM361 452h1v1h-1zM362 452h1v1h-1zM363 452h1v1h-1zM364 452h1v1h-1zM365 453h1v1h-1zM366 453h1v1h-1zM367 453h1v1h-1zM368 453h1v1h-1zM369 454h1v1h-1zM370 454h1v1h-1zM371 454h1v1h-1zM372 454h1v1h-1zM373 454h1v1h-1zM374 454h1v1h-1zM375 455h1v1h-1zM376 456h1v1h-1zM377 457h1v1h-1zM378 457h1v1h-1zM379 458h1v1h-1zM380 458h1v1h-1zM381 459h1v1h-1zM382 459h1v1h-1zM383 459h1v1h-1zM384 459h1v1h-1zM385 459h1v1h-1zM386 459h1v1h-1zM387 460h1v1h-1zM388 460h1v1h-1zM389 460h1v1h-1zM390 460h1v1h-1zM391 461h1v1h-1zM392 461h1v1h-1zM393 461h1v1h-1zM394 461h1v1h-1zM395 461h1v1h-1zM396 461h1v1h-1zM397 461h1v1h-1zM398 461h1v1h-1zM399 460h1v1h-1zM400 460h1v1h-1zM401 459h1v1h-1zM402 458h1v1h-1zM403 457h1v1h-1zM404 457h1v1h-1zM405 456h1v1h-1zM406 455h1v1h-1zM407 454h1v1h-1zM408 453h1v1h-1zM409 452h1v1h-1zM410 452h1v1h-1zM411 451h1v1h-1zM412 450h1v1h-1zM413 449h1v1h-1zM414 449h1v1h-1zM415 448h1v1h-1zM416 447h1v1h-1zM417 446h1v1h-1zM418 446h1v1h-1zM419 446h1v1h-1zM420 446h1v1h-1zM421 445h1v1h-1zM422 445h1v1h-1zM423 446h1v1h-1zM424 446h1v1h-1zM425 446h1v1h-1zM426 446h1v1h-1zM427 446h1v1h-1zM428 446h1v1h-1zM429 446h1v1h-1zM430 446h1v1h-1zM431 447h1v1h-1zM432 447h1v1h-1zM433 448h1v1h-1zM434 448h1v1h-1zM435 449h1v1h-1zM436 449h1v1h-1zM437 450h1v1h-1zM438 451h1v1h-1zM439 452h1v1h-1zM440 453h1v1h-1zM441 454h1v1h-1zM442 455h1v1h-1zM443 456h1v1h-1zM444 457h1v1h-1zM445 458h1v1h-1zM446 458h1v1h-1zM447 459h1v1h-1zM448 459h1v1h-1zM449 460h1v1h-1zM450 460h1v1h-1zM451 460h1v1h-1zM452 460h1v1h-1zM453 459h1v1h-1zM454 459h1v1h-1zM455 458h1v1h-1zM456 458h1v1h-1zM457 458h1v1h-1zM458 458h1v1h-1zM459 458h1v1h-1zM460 458h1v1h-1zM461 458h1v1h-1zM462 458h1v1h-1zM463 458h1v1h-1zM464 458h1v1h-1zM465 458h1v1h-1zM466 458h1v1h-1zM467 458h1v1h-1zM468 458h1v1h-1zM469 459h1v1h-1zM470 459h1v1h-1zM471 459h1v1h-1zM472 459h1v1h-1zM473 459h1v1h-1zM474 459h1v1h-1zM475 458h1v1h-1zM476 458h1v1h-1zM477 457h1v1h-1zM478 457h1v1h-1zM479 456h1v1h-1zM480 456h1v1h-1zM481 455h1v1h-1zM482 455h1v1h-1zM483 454h1v1h-1zM484 454h1v1h-1zM485 453h1v1h-1zM486 453h1v1h-1zM487 452h1v1h-1zM488 452h1v1h-1zM489 452h1v1h-1zM490 452h1v1h-1zM491 452h1v1h-1zM492 452h1v1h-1zM493 452h1v1h-1zM494 452h1v1h-1zM495 451h1v1h-1zM496 451h1v1h-1zM497 451h1v1h-1zM498 451h1v1h-1zM499 450h1v1h-1zM500 450h1v1h-1zM501 449h1v1h-1zM502 449h1v1h-1zM503 448h1v1h-1zM504 448h1v1h-1zM505 448h1v1h-1zM506 448h1v1h-1zM507 447h1v1h-1zM508 447h1v1h-1zM509 447h1v1h-1zM510 447h1v1h-1zM511 446h1v1h-1zM512 446h1v1h-1zM513 446h1v1h-1zM514 446h1v1h-1zM515 445h1v1h-1zM516 445h1v1h-1zM517 445h1v1h-1zM518 445h1v1h-1zM519 445h1v1h-1zM520 445h1v1h-1zM521 445h1v1h-1zM522 445h1v1h-1zM523 445h1v1h-1zM524 445h1v1h-1zM525 444h1v1h-1zM526 444h1v1h-1zM527 444h1v1h-1zM528 444h1v1h-1zM529 443h1v1h-1zM530 443h1v1h-1zM531 444h1v1h-1zM532 444h1v1h-1zM533 445h1v1h-1zM534 445h1v1h-1zM535 446h1v1h-1zM536 446h1v1h-1zM537 446h1v1h-1zM538 446h1v1h-1zM539 446h1v1h-1zM540 446h1v1h-1zM541 445h1v1h-1zM542 445h1v1h-1zM543 445h1v1h-1zM544 445h1v1h-1zM545 444h1v1h-1zM546 444h1v1h-1zM547 443h1v1h-1zM548 443h1v1h-1zM549 441h1v2h-1zM550 440h1v1h-1zM551 439h1v1h-1zM552 438h1v1h-1zM553 436h1v2h-1zM554 435h1v1h-1zM555 434h1v1h-1zM556 433h1v1h-1zM557 431h1v2h-1zM558 430h1v1h-1zM559 429h1v1h-1zM560 428h1v1h-1zM561 427h1v1h-1zM562 426h1v1h-1zM563 425h1v1h-1zM564 425h1v1h-1zM565 424h1v1h-1zM566 424h1v1h-1zM567 423h1v1h-1zM568 423h1v1h-1zM569 423h1v1h-1zM570 423h1v1h-1zM571 423h1v1h-1zM572 423h1v1h-1zM573 424h1v1h-1zM574 424h1v1h-1zM575 424h1v1h-1zM576 424h1v1h-1zM577 425h1v1h-1zM578 425h1v1h-1zM579 425h1v1h-1zM580 425h1v1h-1zM581 426h1v1h-1zM582 426h1v1h-1zM583 426h1v1h-1zM584 426h1v1h-1zM585 426h1v1h-1zM586 426h1v1h-1zM587 426h1v1h-1zM588 426h1v1h-1zM589 425h1v1h-1zM590 424h1v1h-1zM591 423h1v1h-1zM592 423h1v1h-1zM593 422h1v1h-1zM594 421h1v1h-1zM595 420h1v1h-1zM596 419h1v1h-1zM597 418h1v1h-1zM598 417h1v1h-1zM599 416h1v1h-1zM600 415h1v1h-1zM601 414h1v1h-1zM602 414h1v1h-1zM603 414h1v1h-1zM604 414h1v1h-1zM605 413h1v1h-1zM606 413h1v1h-1zM607 413h1v1h-1zM608 413h1v1h-1zM609 414h1v1h-1zM610 414h1v1h-1zM611 415h1v1h-1zM612 416h1v1h-1zM613 417h1v1h-1zM614 418h1v1h-1zM615 419h1v2h-1zM616 421h1v1h-1zM617 422h1v1h-1zM618 423h1v1h-1zM619 424h1v1h-1zM620 425h1v1h-1zM621 426h1v1h-1zM622 427h1v1h-1zM623 428h1v1h-1zM624 429h1v1h-1zM625 430h1v1h-1zM626 431h1v1h-1zM627 432h1v1h-1zM628 432h1v1h-1zM629 433h1v1h-1zM630 433h1v1h-1zM631 434h1v1h-1zM632 434h1v1h-1zM633 434h1v1h-1zM634 434h1v1h-1zM635 435h1v1h-1zM636 435h1v1h-1zM637 434h1v1h-1zM638 434h1v1h-1zM639 433h1v1h-1zM640 433h1v1h-1zM641 432h1v1h-1zM642 432h1v1h-1zM643 431h1v1h-1zM644 431h1v1h-1zM645 430h1v1h-1zM646 430h1v1h-1zM647 430h1v1h-1zM648 430h1v1h-1zM649 429h1v1h-1zM650 429h1v1h-1zM651 428h1v1h-1zM652 428h1v1h-1zM653 428h1v1h-1zM654 428h1v1h-1zM655 427h1v1h-1zM656 427h1v1h-1zM657 426h1v1h-1zM658 426h1v1h-1zM659 426h1v1h-1zM660 426h1v1h-1zM661 426h1v1h-1zM662 426h1v1h-1zM663 425h1v1h-1zM664 425h1v1h-1zM665 425h1v1h-1zM666 425h1v1h-1zM667 426h1v1h-1zM668 426h1v1h-1zM669 426h1v1h-1zM670 426h1v1h-1zM671 426h1v1h-1zM672 426h1v1h-1zM673 426h1v1h-1zM674 426h1v1h-1zM675 426h1v1h-1zM676 426h1v1h-1zM677 427h1v1h-1zM678 427h1v1h-1zM679 428h1v1h-1zM680 428h1v1h-1zM681 429h1v1h-1zM682 430h1v1h-1zM683 431h1v1h-1zM684 432h1v1h-1zM685 433h1v1h-1zM686 434h1v1h-1zM687 435h1v2h-1zM688 437h1v2h-1zM689 439h1v2h-1zM690 441h1v1h-1zM691 442h1v2h-1zM692 444h1v2h-1zM693 446h1v2h-1zM694 448h1v2h-1zM695 450h1v2h-1zM696 452h1v2h-1zM697 454h1v2h-1zM698 456h1v1h-1zM699 457h1v1h-1zM700 458h1v1h-1zM701 459h1v1h-1zM702 460h1v1h-1zM703 461h1v1h-1zM704 462h1v1h-1zM705 463h1v1h-1zM706 463h1v1h-1zM707 464h1v1h-1zM708 464h1v1h-1zM709 465h1v1h-1zM710 465h1v1h-1zM711 466h1v1h-1zM712 466h1v1h-1zM713 467h1v1h-1zM714 467h1v1h-1zM715 468h1v1h-1zM716 468h1v1h-1zM717 469h1v1h-1zM718 469h1v1h-1zM719 469h1v1h-1zM720 469h1v1h-1zM721 470h1v1h-1zM722 470h1v1h-1zM723 470h1v1h-1zM724 470h1v1h-1zM725 470h1v1h-1zM726 470h1v1h-1zM727 469h1v1h-1zM728 469h1v1h-1zM729 469h1v1h-1zM730 469h1v1h-1zM731 468h1v1h-1zM732 468h1v1h-1zM733 467h1v1h-1zM734 467h1v1h-1zM735 466h1v1h-1zM736 466h1v1h-1zM737 465h1v1h-1zM738 465h1v1h-1zM739 464h1v1h-1zM740 463h1v1h-1zM741 462h1v1h-1zM742 462h1v1h-1zM743 461h1v1h-1zM744 461h1v1h-1zM745 460h1v1h-1zM746 460h1v1h-1zM747 460h1v1h-1zM748 460h1v1h-1zM749 459h1v1h-1zM750 459h1v1h-1zM751 458h1v1h-1zM752 458h1v1h-1zM753 457h1v1h-1zM754 457h1v1h-1zM755 456h1v1h-1zM756 456h1v1h-1zM757 455h1v1h-1zM758 455h1v1h-1zM759 454h1v1h-1zM760 454h1v1h-1zM761 453h1v1h-1zM762 452h1v1h-1zM763 450h1v2h-1zM764 449h1v1h-1zM765 448h1v1h-1zM766 447h1v1h-1zM767 446h1v1h-1zM768 445h1v1h-1zM769 444h1v1h-1zM770 443h1v1h-1zM771 442h1v1h-1zM772 441h1v1h-1zM773 440h1v1h-1zM774 439h1v1h-1zM775 438h1v1h-1zM776 438h1v1h-1zM777 438h1v1h-1zM778 438h1v1h-1zM779 438h1v1h-1zM780 438h1v1h-1zM781 438h1v1h-1zM782 438h1v1h-1zM783 438h1v1h-1zM784 438h1v1h-1zM785 439h1v1h-1zM786 439h1v1h-1zM787 440h1v1h-1zM788 440h1v1h-1zM789 441h1v1h-1zM790 441h1v1h-1zM791 442h1v1h-1zM792 442h1v1h-1zM793 443h1v1h-1zM794 443h1v1h-1zM795 443h1v1h-1zM796 443h1v1h-1zM797 444h1v1h-1zM798 444h1v1h-1zM799 444h1v1h-1zM800 444h1v1h-1zM801 444h1v1h-1zM802 444h1v1h-1zM803 443h1v1h-1zM804 443h1v1h-1zM805 443h1v1h-1zM806 443h1v1h-1zM807 443h1v1h-1zM808 443h1v1h-1zM809 443h1v1h-1zM810 443h1v1h-1zM811 443h1v1h-1zM812 443h1v1h-1zM813 443h1v1h-1zM814 443h1v1h-1zM815 443h1v1h-1zM816 443h1v1h-1zM817 444h1v1h-1zM818 444h1v1h-1zM819 444h1v1h-1zM820 444h1v1h-1zM821 444h1v1h-1zM822 444h1v1h-1zM823 444h1v1h-1zM824 444h1v1h-1zM825 444h1v1h-1zM826 444h1v1h-1zM827 445h1v1h-1zM828 445h1v1h-1zM829 445h1v1h-1zM830 445h1v1h-1zM831 445h1v1h-1zM832 445h1v1h-1zM833 445h1v1h-1zM834 445h1v1h-1zM835 444h1v1h-1zM836 444h1v1h-1zM837 444h1v1h-1zM838 444h1v1h-1zM839 443h1v1h-1zM840 443h1v1h-1zM841 442h1v1h-1zM842 442h1v1h-1zM843 441h1v1h-1zM844 441h1v1h-1zM845 441h1v1h-1zM846 441h1v1h-1zM847 440h1v1h-1zM848 440h1v1h-1zM849 440h1v1h-1zM850 440h1v1h-1zM851 440h1v1h-1zM852 440h1v1h-1zM853 440h1v1h-1zM854 440h1v1h-1zM855 440h1v1h-1zM856 440h1v1h-1zM857 441h1v1h-1zM858 441h1v1h-1zM859 442h1v1h-1zM860 443h1v1h-1zM861 444h1v1h-1zM862 444h1v1h-1zM863 445h1v1h-1zM864 446h1v1h-1zM865 447h1v1h-1zM866 447h1v1h-1zM867 448h1v1h-1zM868 448h1v1h-1zM869 449h1v1h-1zM870 449h1v1h-1zM871 450h1v1h-1zM872 450h1v1h-1zM873 450h1v1h-1zM874 450h1v1h-1zM875 449h1v1h-1zM876 449h1v1h-1zM877 448h1v1h-1zM878 448h1v1h-1zM879 448h1v1h-1zM880 448h1v1h-1zM881 447h1v1h-1zM882 447h1v1h-1zM883 446h1v1h-1zM884 446h1v1h-1zM885 446h1v1h-1zM886 446h1v1h-1zM887 446h1v1h-1zM888 446h1v1h-1zM889 445h1v1h-1zM890 445h1v1h-1zM891 445h1v1h-1zM892 445h1v1h-1zM893 445h1v1h-1zM894 445h1v1h-1zM895 444h1v1h-1zM896 444h1v1h-1zM897 444h1v1h-1zM898 444h1v1h-1zM899 444h1v1h-1zM900 444h1v1h-1zM901 443h1v1h-1zM902 443h1v1h-1zM903 443h1v1h-1zM904 443h1v1h-1zM905 444h1v1h-1zM906 444h1v1h-1zM907 444h1v1h-1zM908 444h1v1h-1zM909 444h1v1h-1zM910 444h1v1h-1zM911 445h1v1h-1zM912 446h1v1h-1zM913 447h1v1h-1zM914 447h1v1h-1zM915 448h1v1h-1zM916 449h1v1h-1zM917 450h1v1h-1zM918 450h1v1h-1zM919 451h1v1h-1zM920 451h1v1h-1zM921 452h1v1h-1zM922 452h1v1h-1zM923 453h1v1h-1zM924 453h1v1h-1zM925 454h1v1h-1zM926 454h1v1h-1zM927 455h1v1h-1zM928 455h1v1h-1z" fill="#ff0000" shape-rendering="crispEdges"/>
<text x="8" y="418.7" font-size="9.7" fill="#000" text-anchor="start" font-weight="normal" textLength="154" lengthAdjust="spacingAndGlyphs"  stroke="#000" stroke-width="0.15">MACD(12,26,9) -0.001169 -0.001055</text>
<text x="1170.2" y="416" font-size="9.7" fill="#000" text-anchor="start" font-weight="normal" textLength="39.5" lengthAdjust="spacingAndGlyphs"  stroke="#000" stroke-width="0.15">0.003811</text>
<text x="1170.2" y="448" font-size="9.7" fill="#000" text-anchor="start" font-weight="normal" textLength="18.2" lengthAdjust="spacingAndGlyphs"  stroke="#000" stroke-width="0.15">0.00</text>
<text x="1170.2" y="472" font-size="9.7" fill="#000" text-anchor="start" font-weight="normal" textLength="42.8" lengthAdjust="spacingAndGlyphs"  stroke="#000" stroke-width="0.15">-0.003113</text>
<rect x="1167" y="444" width="2" height="1" fill="#000" />
<rect x="1167" y="499" width="2" height="1" fill="#000" />
<rect x="1167" y="527" width="2" height="1" fill="#000" />
<path d="M5 499.5H1166" stroke="#c0c0c0" stroke-width="1" stroke-dasharray="3 3" shape-rendering="crispEdges"/>
<path d="M5 527.5H1166" stroke="#c0c0c0" stroke-width="1" stroke-dasharray="3 3" shape-rendering="crispEdges"/>
<path d="M4 499h1v1h-1zM5 500h1v1h-1zM6 501h1v1h-1zM7 502h1v2h-1zM8 504h1v3h-1zM9 507h1v2h-1zM10 509h1v2h-1zM11 511h1v2h-1zM12 513h1v1h-1zM13 514h1v1h-1zM14 515h1v1h-1zM15 516h1v1h-1zM16 517h1v1h-1zM17 517h1v1h-1zM18 517h1v1h-1zM19 517h1v1h-1zM20 517h1v1h-1zM21 518h1v1h-1zM22 518h1v1h-1zM23 516h1v2h-1zM24 515h1v1h-1zM25 514h1v1h-1zM26 513h1v1h-1zM27 512h1v1h-1zM28 512h1v1h-1zM29 511h1v1h-1zM30 511h1v1h-1zM31 509h1v2h-1zM32 508h1v1h-1zM33 506h1v2h-1zM34 504h1v2h-1zM35 502h1v2h-1zM36 500h1v2h-1zM37 501h1v2h-1zM38 503h1v2h-1zM39 503h1v1h-1zM40 503h1v1h-1zM41 504h1v1h-1zM42 504h1v1h-1zM43 505h1v1h-1zM44 506h1v1h-1zM45 507h1v1h-1zM46 507h1v1h-1zM47 507h1v1h-1zM48 507h1v1h-1zM49 508h1v2h-1zM50 510h1v2h-1zM51 512h1v1h-1zM52 512h1v1h-1zM53 511h1v1h-1zM54 511h1v1h-1zM55 512h1v1h-1zM56 513h1v1h-1zM57 514h1v2h-1zM58 516h1v1h-1zM59 517h1v1h-1zM60 518h1v1h-1zM61 516h1v2h-1zM62 515h1v1h-1zM63 514h1v1h-1zM64 513h1v1h-1zM65 512h1v1h-1zM66 512h1v1h-1zM67 511h1v1h-1zM68 510h1v2h-1zM69 508h1v2h-1zM70 505h1v3h-1zM71 503h1v2h-1zM72 501h1v2h-1zM73 500h1v1h-1zM74 499h1v1h-1zM75 498h1v1h-1zM76 498h1v1h-1zM77 498h1v1h-1zM78 498h1v1h-1zM79 499h1v1h-1zM80 499h1v1h-1zM81 500h1v1h-1zM82 500h1v1h-1zM83 498h1v2h-1zM84 496h1v2h-1zM85 495h1v1h-1zM86 494h1v1h-1zM87 493h1v1h-1zM88 493h1v1h-1zM89 493h1v1h-1zM90 493h1v1h-1zM91 494h1v1h-1zM92 494h1v1h-1zM93 495h1v1h-1zM94 495h1v2h-1zM95 497h1v3h-1zM96 500h1v3h-1zM97 503h1v4h-1zM98 507h1v2h-1zM99 509h1v1h-1zM100 509h1v1h-1zM101 509h1v1h-1zM102 509h1v1h-1zM103 510h1v1h-1zM104 511h1v1h-1zM105 512h1v2h-1zM106 514h1v2h-1zM107 516h1v1h-1zM108 517h1v1h-1zM109 518h1v1h-1zM110 519h1v1h-1zM111 519h1v1h-1zM112 519h1v1h-1zM113 518h1v1h-1zM114 518h1v1h-1zM115 517h1v1h-1zM116 516h1v1h-1zM117 517h1v2h-1zM118 519h1v1h-1zM119 520h1v1h-1zM120 520h1v1h-1zM121 519h1v1h-1zM122 517h1v2h-1zM123 513h1v4h-1zM124 511h1v2h-1zM125 510h1v1h-1zM126 510h1v1h-1zM127 510h1v1h-1zM128 510h1v1h-1zM129 511h1v1h-1zM130 511h1v1h-1zM131 512h1v1h-1zM132 513h1v1h-1zM133 514h1v1h-1zM134 514h1v1h-1zM135 515h1v1h-1zM136 515h1v1h-1zM137 514h1v1h-1zM138 514h1v1h-1zM139 514h1v1h-1zM140 514h1v1h-1zM141 515h1v1h-1zM142 515h1v1h-1zM143 514h1v1h-1zM144 514h1v1h-1zM145 513h1v1h-1zM146 513h1v1h-1zM147 514h1v1h-1zM148 514h1v1h-1zM149 513h1v1h-1zM150 512h1v1h-1zM151 510h1v2h-1zM152 507h1v3h-1zM153 505h1v2h-1zM154 503h1v2h-1zM155 504h1v1h-1zM156 505h1v2h-1zM157 507h1v2h-1zM158 509h1v2h-1zM159 511h1v1h-1zM160 511h1v1h-1zM161 510h1v1h-1zM162 509h1v1h-1zM163 508h1v1h-1zM164 507h1v1h-1zM165 507h1v1h-1zM166 507h1v1h-1zM167 508h1v1h-1zM168 508h1v1h-1zM169 507h1v1h-1zM170 506h1v1h-1zM171 505h1v1h-1zM172 505h1v1h-1zM173 505h1v1h-1zM174 505h1v1h-1zM175 504h1v1h-1zM176 504h1v1h-1zM177 503h1v1h-1zM178 503h1v1h-1zM179 504h1v1h-1zM180 503h1v2h-1zM181 499h1v4h-1zM182 497h1v2h-1zM183 496h1v1h-1zM184 495h1v1h-1zM185 496h1v1h-1zM186 497h1v1h-1zM187 498h1v1h-1zM188 499h1v1h-1zM189 498h1v1h-1zM190 498h1v1h-1zM191 499h1v1h-1zM192 499h1v1h-1zM193 500h1v2h-1zM194 502h1v3h-1zM195 505h1v2h-1zM196 507h1v2h-1zM197 509h1v1h-1zM198 509h1v1h-1zM199 509h1v1h-1zM200 509h1v1h-1zM201 510h1v1h-1zM202 511h1v1h-1zM203 512h1v1h-1zM204 513h1v1h-1zM205 514h1v1h-1zM206 514h1v1h-1zM207 514h1v1h-1zM208 514h1v1h-1zM209 513h1v1h-1zM210 513h1v1h-1zM211 513h1v1h-1zM212 513h1v1h-1zM213 514h1v2h-1zM214 516h1v3h-1zM215 519h1v3h-1zM216 522h1v2h-1zM217 524h1v1h-1zM218 524h1v1h-1zM219 525h1v1h-1zM220 525h1v1h-1zM221 523h1v2h-1zM222 522h1v1h-1zM223 520h1v2h-1zM224 519h1v1h-1zM225 518h1v1h-1zM226 518h1v1h-1zM227 517h1v1h-1zM228 517h1v1h-1zM229 516h1v1h-1zM230 515h1v1h-1zM231 514h1v1h-1zM232 514h1v1h-1zM233 513h1v1h-1zM234 512h1v1h-1zM235 511h1v1h-1zM236 510h1v1h-1zM237 509h1v1h-1zM238 508h1v1h-1zM239 509h1v2h-1zM240 511h1v1h-1zM241 512h1v2h-1zM242 514h1v1h-1zM243 515h1v1h-1zM244 516h1v1h-1zM245 516h1v1h-1zM246 516h1v1h-1zM247 516h1v1h-1zM248 516h1v1h-1zM249 517h1v1h-1zM250 517h1v1h-1zM251 518h1v1h-1zM252 519h1v1h-1zM253 517h1v2h-1zM254 516h1v1h-1zM255 514h1v2h-1zM256 513h1v1h-1zM257 512h1v1h-1zM258 511h1v1h-1zM259 510h1v1h-1zM260 510h1v1h-1zM261 511h1v1h-1zM262 511h1v1h-1zM263 512h1v1h-1zM264 513h1v1h-1zM265 514h1v2h-1zM266 516h1v1h-1zM267 516h1v1h-1zM268 516h1v1h-1zM269 515h1v1h-1zM270 514h1v1h-1zM271 514h1v1h-1zM272 514h1v1h-1zM273 515h1v2h-1zM274 517h1v1h-1zM275 516h1v1h-1zM276 516h1v1h-1zM277 515h1v1h-1zM278 514h1v1h-1zM279 513h1v1h-1zM280 513h1v1h-1zM281 513h1v1h-1zM282 513h1v1h-1zM283 513h1v1h-1zM284 513h1v1h-1zM285 513h1v1h-1zM286 513h1v1h-1zM287 512h1v1h-1zM288 511h1v2h-1zM289 509h1v2h-1zM290 507h1v2h-1zM291 506h1v1h-1zM292 505h1v1h-1zM293 505h1v1h-1zM294 505h1v1h-1zM295 506h1v2h-1zM296 508h1v1h-1zM297 509h1v2h-1zM298 511h1v2h-1zM299 513h1v2h-1zM300 515h1v2h-1zM301 517h1v2h-1zM302 519h1v2h-1zM303 521h1v2h-1zM304 523h1v2h-1zM305 525h1v1h-1zM306 526h1v1h-1zM307 527h1v1h-1zM308 528h1v1h-1zM309 529h1v1h-1zM310 529h1v1h-1zM311 527h1v2h-1zM312 524h1v3h-1zM313 522h1v2h-1zM314 520h1v2h-1zM315 519h1v1h-1zM316 519h1v1h-1zM317 519h1v1h-1zM318 519h1v1h-1zM319 520h1v1h-1zM320 520h1v1h-1zM321 518h1v2h-1zM322 517h1v1h-1zM323 516h1v1h-1zM324 516h1v1h-1zM325 517h1v1h-1zM326 518h1v1h-1zM327 518h1v1h-1zM328 518h1v1h-1zM329 516h1v2h-1zM330 515h1v1h-1zM331 514h1v1h-1zM332 513h1v1h-1zM333 512h1v1h-1zM334 512h1v1h-1zM335 513h1v2h-1zM336 515h1v1h-1zM337 516h1v1h-1zM338 517h1v1h-1zM339 518h1v1h-1zM340 518h1v1h-1zM341 519h1v1h-1zM342 520h1v1h-1zM343 521h1v1h-1zM344 522h1v1h-1zM345 523h1v1h-1zM346 524h1v1h-1zM347 525h1v1h-1zM348 524h1v2h-1zM349 521h1v3h-1zM350 519h1v2h-1zM351 517h1v2h-1zM352 515h1v2h-1zM353 514h1v1h-1zM354 513h1v1h-1zM355 512h1v1h-1zM356 512h1v1h-1zM357 511h1v1h-1zM358 511h1v1h-1zM359 512h1v2h-1zM360 514h1v2h-1zM361 516h1v3h-1zM362 519h1v2h-1zM363 521h1v1h-1zM364 522h1v1h-1zM365 523h1v1h-1zM366 523h1v1h-1zM367 522h1v1h-1zM368 522h1v1h-1zM369 520h1v2h-1zM370 518h1v2h-1zM371 519h1v2h-1zM372 521h1v1h-1zM373 522h1v1h-1zM374 522h1v1h-1zM375 521h1v1h-1zM376 521h1v1h-1zM377 520h1v1h-1zM378 520h1v1h-1zM379 521h1v1h-1zM380 521h1v1h-1zM381 521h1v1h-1zM382 521h1v1h-1zM383 522h1v1h-1zM384 522h1v1h-1zM385 523h1v1h-1zM386 523h1v1h-1zM387 523h1v1h-1zM388 523h1v1h-1zM389 524h1v1h-1zM390 524h1v1h-1zM391 524h1v1h-1zM392 523h1v2h-1zM393 520h1v3h-1zM394 518h1v2h-1zM395 516h1v2h-1zM396 514h1v2h-1zM397 513h1v1h-1zM398 512h1v1h-1zM399 511h1v1h-1zM400 511h1v1h-1zM401 510h1v1h-1zM402 510h1v1h-1zM403 509h1v1h-1zM404 508h1v1h-1zM405 507h1v1h-1zM406 506h1v2h-1zM407 508h1v3h-1zM408 511h1v2h-1zM409 512h1v1h-1zM410 512h1v1h-1zM411 512h1v1h-1zM412 512h1v1h-1zM413 513h1v1h-1zM414 513h1v1h-1zM415 514h1v1h-1zM416 514h1v1h-1zM417 515h1v2h-1zM418 517h1v1h-1zM419 517h1v1h-1zM420 517h1v1h-1zM421 516h1v1h-1zM422 516h1v1h-1zM423 516h1v1h-1zM424 516h1v1h-1zM425 517h1v1h-1zM426 517h1v1h-1zM427 516h1v1h-1zM428 516h1v1h-1zM429 515h1v1h-1zM430 515h1v1h-1zM431 516h1v1h-1zM432 517h1v3h-1zM433 520h1v4h-1zM434 524h1v3h-1zM435 526h1v1h-1zM436 526h1v1h-1zM437 527h1v1h-1zM438 527h1v1h-1zM439 528h1v1h-1zM440 528h1v1h-1zM441 528h1v1h-1zM442 528h1v1h-1zM443 526h1v2h-1zM444 523h1v3h-1zM445 518h1v5h-1zM446 515h1v3h-1zM447 514h1v1h-1zM448 513h1v1h-1zM449 512h1v1h-1zM450 512h1v1h-1zM451 513h1v1h-1zM452 513h1v1h-1zM453 514h1v1h-1zM454 514h1v2h-1zM455 516h1v3h-1zM456 519h1v2h-1zM457 521h1v2h-1zM458 523h1v1h-1zM459 524h1v1h-1zM460 525h1v1h-1zM461 524h1v1h-1zM462 524h1v1h-1zM463 523h1v1h-1zM464 523h1v1h-1zM465 522h1v1h-1zM466 522h1v1h-1zM467 520h1v2h-1zM468 517h1v3h-1zM469 515h1v2h-1zM470 513h1v2h-1zM471 512h1v1h-1zM472 512h1v1h-1zM473 512h1v1h-1zM474 512h1v1h-1zM475 513h1v1h-1zM476 513h1v1h-1zM477 514h1v1h-1zM478 515h1v1h-1zM479 516h1v2h-1zM480 518h1v2h-1zM481 518h1v1h-1zM482 518h1v1h-1zM483 517h1v1h-1zM484 517h1v1h-1zM485 518h1v1h-1zM486 518h1v1h-1zM487 516h1v2h-1zM488 515h1v1h-1zM489 513h1v2h-1zM490 512h1v1h-1zM491 512h1v1h-1zM492 512h1v1h-1zM493 513h1v1h-1zM494 513h1v1h-1zM495 514h1v1h-1zM496 515h1v1h-1zM497 514h1v1h-1zM498 514h1v1h-1zM499 513h1v1h-1zM500 513h1v1h-1zM501 512h1v1h-1zM502 511h1v2h-1zM503 507h1v4h-1zM504 505h1v2h-1zM505 507h1v3h-1zM506 510h1v2h-1zM507 512h1v2h-1zM508 514h1v1h-1zM509 515h1v2h-1zM510 517h1v1h-1zM511 515h1v2h-1zM512 514h1v1h-1zM513 513h1v1h-1zM514 512h1v1h-1zM515 511h1v1h-1zM516 511h1v1h-1zM517 512h1v1h-1zM518 513h1v1h-1zM519 514h1v1h-1zM520 514h1v1h-1zM521 514h1v1h-1zM522 514h1v1h-1zM523 515h1v1h-1zM524 515h1v1h-1zM525 516h1v1h-1zM526 515h1v2h-1zM527 512h1v3h-1zM528 510h1v2h-1zM529 512h1v2h-1zM530 514h1v2h-1zM531 516h1v2h-1zM532 518h1v2h-1zM533 518h1v1h-1zM534 518h1v1h-1zM535 517h1v1h-1zM536 516h1v1h-1zM537 514h1v2h-1zM538 513h1v1h-1zM539 511h1v2h-1zM540 510h1v1h-1zM541 508h1v2h-1zM542 507h1v1h-1zM543 505h1v2h-1zM544 504h1v1h-1zM545 503h1v1h-1zM546 503h1v1h-1zM547 502h1v1h-1zM548 502h1v1h-1zM549 501h1v1h-1zM550 501h1v1h-1zM551 500h1v1h-1zM552 499h1v1h-1zM553 498h1v1h-1zM554 498h1v1h-1zM555 498h1v1h-1zM556 498h1v1h-1zM557 499h1v1h-1zM558 499h1v1h-1zM559 500h1v1h-1zM560 500h1v1h-1zM561 500h1v1h-1zM562 500h1v1h-1zM563 500h1v1h-1zM564 500h1v1h-1zM565 501h1v2h-1zM566 503h1v1h-1zM567 504h1v1h-1zM568 505h1v1h-1zM569 506h1v2h-1zM570 508h1v1h-1zM571 509h1v1h-1zM572 510h1v1h-1zM573 510h1v1h-1zM574 510h1v1h-1zM575 509h1v1h-1zM576 508h1v2h-1zM577 506h1v2h-1zM578 504h1v2h-1zM579 502h1v2h-1zM580 501h1v1h-1zM581 501h1v1h-1zM582 501h1v1h-1zM583 502h1v1h-1zM584 502h1v1h-1zM585 501h1v1h-1zM586 500h1v1h-1zM587 499h1v1h-1zM588 499h1v1h-1zM589 498h1v1h-1zM590 497h1v1h-1zM591 496h1v1h-1zM592 495h1v1h-1zM593 496h1v1h-1zM594 496h1v1h-1zM595 497h1v1h-1zM596 497h1v1h-1zM597 498h1v1h-1zM598 498h1v1h-1zM599 499h1v1h-1zM600 500h1v1h-1zM601 501h1v1h-1zM602 502h1v1h-1zM603 503h1v1h-1zM604 504h1v1h-1zM605 505h1v1h-1zM606 506h1v1h-1zM607 507h1v1h-1zM608 507h1v1h-1zM609 508h1v1h-1zM610 509h1v1h-1zM611 510h1v1h-1zM612 510h1v1h-1zM613 511h1v1h-1zM614 512h1v1h-1zM615 513h1v1h-1zM616 513h1v1h-1zM617 512h1v1h-1zM618 511h1v1h-1zM619 510h1v1h-1zM620 510h1v1h-1zM621 510h1v1h-1zM622 510h1v1h-1zM623 511h1v1h-1zM624 511h1v1h-1zM625 509h1v2h-1zM626 508h1v1h-1zM627 506h1v2h-1zM628 505h1v1h-1zM629 505h1v1h-1zM630 505h1v1h-1zM631 504h1v1h-1zM632 504h1v1h-1zM633 505h1v1h-1zM634 506h1v2h-1zM635 508h1v3h-1zM636 510h1v3h-1zM637 505h1v5h-1zM638 502h1v3h-1zM639 501h1v1h-1zM640 500h1v1h-1zM641 500h1v1h-1zM642 500h1v1h-1zM643 501h1v1h-1zM644 502h1v1h-1zM645 503h1v2h-1zM646 505h1v2h-1zM647 506h1v1h-1zM648 506h1v1h-1zM649 505h1v1h-1zM650 504h1v1h-1zM651 505h1v1h-1zM652 505h1v1h-1zM653 504h1v1h-1zM654 504h1v1h-1zM655 503h1v1h-1zM656 503h1v1h-1zM657 502h1v1h-1zM658 502h1v1h-1zM659 501h1v1h-1zM660 500h1v1h-1zM661 501h1v1h-1zM662 501h1v1h-1zM663 502h1v2h-1zM664 504h1v1h-1zM665 505h1v1h-1zM666 506h1v1h-1zM667 507h1v1h-1zM668 507h1v1h-1zM669 507h1v1h-1zM670 507h1v1h-1zM671 506h1v1h-1zM672 505h1v1h-1zM673 504h1v1h-1zM674 504h1v1h-1zM675 504h1v1h-1zM676 504h1v1h-1zM677 505h1v2h-1zM678 507h1v2h-1zM679 509h1v3h-1zM680 512h1v3h-1zM681 515h1v4h-1zM682 519h1v3h-1zM683 522h1v2h-1zM684 524h1v2h-1zM685 526h1v2h-1zM686 528h1v1h-1zM687 529h1v1h-1zM688 528h1v2h-1zM689 525h1v3h-1zM690 523h1v2h-1zM691 521h1v2h-1zM692 520h1v1h-1zM693 519h1v1h-1zM694 518h1v1h-1zM695 519h1v1h-1zM696 520h1v1h-1zM697 520h1v1h-1zM698 520h1v1h-1zM699 521h1v1h-1zM700 521h1v1h-1zM701 522h1v1h-1zM702 522h1v1h-1zM703 523h1v1h-1zM704 524h1v1h-1zM705 525h1v1h-1zM706 525h1v1h-1zM707 525h1v1h-1zM708 524h1v2h-1zM709 520h1v4h-1zM710 517h1v3h-1zM711 519h1v2h-1zM712 521h1v2h-1zM713 521h1v1h-1zM714 521h1v1h-1zM715 520h1v1h-1zM716 520h1v1h-1zM717 520h1v1h-1zM718 520h1v1h-1zM719 520h1v1h-1zM720 520h1v1h-1zM721 519h1v1h-1zM722 519h1v1h-1zM723 518h1v1h-1zM724 518h1v1h-1zM725 518h1v1h-1zM726 518h1v1h-1zM727 518h1v1h-1zM728 518h1v1h-1zM729 518h1v1h-1zM730 518h1v1h-1zM731 519h1v1h-1zM732 519h1v1h-1zM733 518h1v1h-1zM734 518h1v1h-1zM735 517h1v1h-1zM736 517h1v1h-1zM737 517h1v1h-1zM738 517h1v1h-1zM739 517h1v1h-1zM740 517h1v1h-1zM741 516h1v1h-1zM742 515h1v1h-1zM743 516h1v1h-1zM744 516h1v1h-1zM745 517h1v1h-1zM746 518h1v1h-1zM747 519h1v1h-1zM748 520h1v1h-1zM749 519h1v1h-1zM750 519h1v1h-1zM751 517h1v2h-1zM752 515h1v2h-1zM753 513h1v2h-1zM754 512h1v1h-1zM755 510h1v2h-1zM756 509h1v1h-1zM757 508h1v1h-1zM758 507h1v1h-1zM759 506h1v1h-1zM760 506h1v1h-1zM761 506h1v1h-1zM762 506h1v1h-1zM763 507h1v1h-1zM764 508h1v1h-1zM765 509h1v1h-1zM766 509h1v1h-1zM767 508h1v1h-1zM768 507h1v1h-1zM769 508h1v1h-1zM770 508h1v1h-1zM771 509h1v1h-1zM772 510h1v1h-1zM773 511h1v1h-1zM774 511h1v1h-1zM775 512h1v1h-1zM776 512h1v1h-1zM777 511h1v1h-1zM778 511h1v1h-1zM779 511h1v1h-1zM780 511h1v2h-1zM781 513h1v3h-1zM782 516h1v2h-1zM783 518h1v1h-1zM784 519h1v1h-1zM785 519h1v1h-1zM786 519h1v1h-1zM787 518h1v1h-1zM788 518h1v1h-1zM789 517h1v1h-1zM790 516h1v2h-1zM791 514h1v2h-1zM792 512h1v2h-1zM793 510h1v2h-1zM794 509h1v1h-1zM795 510h1v1h-1zM796 510h1v1h-1zM797 511h1v1h-1zM798 511h1v1h-1zM799 510h1v1h-1zM800 510h1v1h-1zM801 509h1v1h-1zM802 509h1v1h-1zM803 510h1v2h-1zM804 512h1v1h-1zM805 513h1v2h-1zM806 515h1v1h-1zM807 516h1v1h-1zM808 517h1v1h-1zM809 517h1v1h-1zM810 517h1v1h-1zM811 516h1v1h-1zM812 515h1v1h-1zM813 514h1v1h-1zM814 514h1v1h-1zM815 512h1v2h-1zM816 510h1v2h-1zM817 511h1v1h-1zM818 512h1v1h-1zM819 513h1v1h-1zM820 514h1v1h-1zM821 513h1v1h-1zM822 513h1v1h-1zM823 512h1v1h-1zM824 512h1v1h-1zM825 512h1v1h-1zM826 512h1v2h-1zM827 514h1v4h-1zM828 518h1v3h-1zM829 516h1v3h-1zM830 514h1v2h-1zM831 512h1v2h-1zM832 511h1v1h-1zM833 511h1v1h-1zM834 511h1v1h-1zM835 511h1v1h-1zM836 511h1v1h-1zM837 510h1v1h-1zM838 510h1v1h-1zM839 510h1v1h-1zM840 510h1v1h-1zM841 509h1v1h-1zM842 508h1v1h-1zM843 508h1v1h-1zM844 508h1v1h-1zM845 509h1v2h-1zM846 511h1v1h-1zM847 512h1v1h-1zM848 513h1v1h-1zM849 512h1v1h-1zM850 511h1v1h-1zM851 512h1v1h-1zM852 513h1v1h-1zM853 514h1v2h-1zM854 516h1v2h-1zM855 518h1v1h-1zM856 519h1v1h-1zM857 520h1v1h-1zM858 521h1v1h-1zM859 521h1v1h-1zM860 521h1v1h-1zM861 520h1v1h-1zM862 520h1v1h-1zM863 519h1v1h-1zM864 518h1v1h-1zM865 516h1v2h-1zM866 514h1v2h-1zM867 512h1v2h-1zM868 511h1v1h-1zM869 511h1v1h-1zM870 511h1v1h-1zM871 510h1v1h-1zM872 510h1v1h-1zM873 510h1v1h-1zM874 510h1v1h-1zM875 511h1v2h-1zM876 513h1v1h-1zM877 514h1v2h-1zM878 516h1v2h-1zM879 515h1v2h-1zM880 514h1v1h-1zM881 514h1v1h-1zM882 514h1v1h-1zM883 515h1v1h-1zM884 515h1v1h-1zM885 515h1v1h-1zM886 515h1v1h-1zM887 513h1v2h-1zM888 511h1v2h-1zM889 510h1v1h-1zM890 509h1v1h-1zM891 510h1v1h-1zM892 511h1v1h-1zM893 511h1v1h-1zM894 511h1v1h-1zM895 510h1v1h-1zM896 510h1v1h-1zM897 511h1v1h-1zM898 511h1v1h-1zM899 512h1v2h-1zM900 514h1v1h-1zM901 515h1v2h-1zM902 517h1v1h-1zM903 518h1v1h-1zM904 519h1v1h-1zM905 520h1v1h-1zM906 520h1v1h-1zM907 520h1v1h-1zM908 520h1v1h-1zM909 519h1v1h-1zM910 519h1v1h-1zM911 518h1v1h-1zM912 518h1v1h-1zM913 519h1v1h-1zM914 519h1v1h-1zM915 520h1v2h-1zM916 522h1v1h-1zM917 522h1v1h-1zM918 522h1v1h-1zM919 522h1v1h-1zM920 522h1v1h-1zM921 523h1v1h-1zM922 524h1v1h-1zM923 522h1v2h-1zM924 521h1v1h-1zM925 519h1v2h-1zM926 518h1v1h-1z" fill="#1e90ff" shape-rendering="crispEdges"/>
<text x="8" y="489.8" font-size="9.7" fill="#000" text-anchor="start" font-weight="normal" textLength="68" lengthAdjust="spacingAndGlyphs"  stroke="#000" stroke-width="0.15">RSI(14) 43.1750</text>
<text x="1170" y="488" font-size="9.7" fill="#000" text-anchor="start" font-weight="normal" textLength="16" lengthAdjust="spacingAndGlyphs"  stroke="#000" stroke-width="0.15">100</text>
<text x="1170" y="503" font-size="9.7" fill="#000" text-anchor="start" font-weight="normal" textLength="10.7" lengthAdjust="spacingAndGlyphs"  stroke="#000" stroke-width="0.15">70</text>
<text x="1170" y="531" font-size="9.7" fill="#000" text-anchor="start" font-weight="normal" textLength="10.7" lengthAdjust="spacingAndGlyphs"  stroke="#000" stroke-width="0.15">30</text>
<text x="1170" y="546" font-size="9.7" fill="#000" text-anchor="start" font-weight="normal" textLength="5.3" lengthAdjust="spacingAndGlyphs"  stroke="#000" stroke-width="0.15">0</text>
<rect x="4" y="550" width="1" height="3" fill="#000" />
<text x="3" y="562" font-size="9.7" fill="#000" text-anchor="start" font-weight="normal" textLength="46" lengthAdjust="spacingAndGlyphs"  stroke="#000" stroke-width="0.15">8 Sep 2021</text>
<rect x="68" y="550" width="1" height="3" fill="#000" />
<text x="67" y="562" font-size="9.7" fill="#000" text-anchor="start" font-weight="normal" textLength="54" lengthAdjust="spacingAndGlyphs"  stroke="#000" stroke-width="0.15">16 Sep 00:00</text>
<rect x="132" y="550" width="1" height="3" fill="#000" />
<text x="131" y="562" font-size="9.7" fill="#000" text-anchor="start" font-weight="normal" textLength="54" lengthAdjust="spacingAndGlyphs"  stroke="#000" stroke-width="0.15">23 Sep 08:00</text>
<rect x="196" y="550" width="1" height="3" fill="#000" />
<text x="195" y="562" font-size="9.7" fill="#000" text-anchor="start" font-weight="normal" textLength="54.5" lengthAdjust="spacingAndGlyphs"  stroke="#000" stroke-width="0.15">30 Sep 16:00</text>
<rect x="260" y="550" width="1" height="3" fill="#000" />
<text x="259" y="562" font-size="9.7" fill="#000" text-anchor="start" font-weight="normal" textLength="48" lengthAdjust="spacingAndGlyphs"  stroke="#000" stroke-width="0.15">8 Oct 00:00</text>
<rect x="324" y="550" width="1" height="3" fill="#000" />
<text x="323" y="562" font-size="9.7" fill="#000" text-anchor="start" font-weight="normal" textLength="53" lengthAdjust="spacingAndGlyphs"  stroke="#000" stroke-width="0.15">15 Oct 08:00</text>
<rect x="388" y="550" width="1" height="3" fill="#000" />
<text x="387" y="562" font-size="9.7" fill="#000" text-anchor="start" font-weight="normal" textLength="53" lengthAdjust="spacingAndGlyphs"  stroke="#000" stroke-width="0.15">22 Oct 16:00</text>
<rect x="452" y="550" width="1" height="3" fill="#000" />
<text x="451" y="562" font-size="9.7" fill="#000" text-anchor="start" font-weight="normal" textLength="50.5" lengthAdjust="spacingAndGlyphs"  stroke="#000" stroke-width="0.15">1 Nov 00:00</text>
<rect x="516" y="550" width="1" height="3" fill="#000" />
<text x="515" y="562" font-size="9.7" fill="#000" text-anchor="start" font-weight="normal" textLength="50.5" lengthAdjust="spacingAndGlyphs"  stroke="#000" stroke-width="0.15">8 Nov 08:00</text>
<rect x="580" y="550" width="1" height="3" fill="#000" />
<text x="579" y="562" font-size="9.7" fill="#000" text-anchor="start" font-weight="normal" textLength="56" lengthAdjust="spacingAndGlyphs"  stroke="#000" stroke-width="0.15">15 Nov 16:00</text>
<rect x="644" y="550" width="1" height="3" fill="#000" />
<text x="643" y="562" font-size="9.7" fill="#000" text-anchor="start" font-weight="normal" textLength="56" lengthAdjust="spacingAndGlyphs"  stroke="#000" stroke-width="0.15">23 Nov 00:00</text>
<rect x="708" y="550" width="1" height="3" fill="#000" />
<text x="707" y="562" font-size="9.7" fill="#000" text-anchor="start" font-weight="normal" textLength="56" lengthAdjust="spacingAndGlyphs"  stroke="#000" stroke-width="0.15">30 Nov 08:00</text>
<rect x="772" y="550" width="1" height="3" fill="#000" />
<text x="771" y="562" font-size="9.7" fill="#000" text-anchor="start" font-weight="normal" textLength="48.5" lengthAdjust="spacingAndGlyphs"  stroke="#000" stroke-width="0.15">7 Dec 16:00</text>
<rect x="836" y="550" width="1" height="3" fill="#000" />
<text x="835" y="562" font-size="9.7" fill="#000" text-anchor="start" font-weight="normal" textLength="54" lengthAdjust="spacingAndGlyphs"  stroke="#000" stroke-width="0.15">15 Dec 00:00</text>
<rect x="900" y="550" width="1" height="3" fill="#000" />
<text x="899" y="562" font-size="9.7" fill="#000" text-anchor="start" font-weight="normal" textLength="55" lengthAdjust="spacingAndGlyphs"  stroke="#000" stroke-width="0.15">22 Dec 08:00</text>
<rect x="7" y="45" width="220" height="24" fill="#fff" />
<rect x="116" y="69" width="2" height="33" fill="#fff" />
<rect x="7" y="45" width="52" height="24" fill="url(#gb)" />
<rect x="174" y="45" width="52" height="24" fill="url(#gb)" />
<rect x="7" y="69" width="109" height="33" fill="url(#gb)" />
<rect x="118" y="69" width="108" height="33" fill="url(#gb)" />
<rect x="7" y="45" width="52" height="1" fill="#2020c0" />
<rect x="174" y="45" width="52" height="1" fill="#2020c0" />
<rect x="7" y="45" width="1" height="57" fill="#1818b0" />
<rect x="225" y="45" width="1" height="57" fill="#1818b0" />
<rect x="11" y="69" width="44" height="1" fill="#8c8cf8" />
<rect x="178" y="69" width="44" height="1" fill="#8c8cf8" />
<rect x="61" y="45" width="112" height="22" fill="#ababab" />
<rect x="62" y="46" width="110" height="20" fill="#fff" />
<rect x="62" y="46" width="20" height="20" fill="url(#gbtn)" />
<rect x="82" y="46" width="1" height="20" fill="#ababab" />
<rect x="151" y="46" width="21" height="20" fill="url(#gbtn)" />
<rect x="150" y="46" width="1" height="20" fill="#ababab" />
<path d="M69.5 54.5h5l-2.5 3z" fill="#4a64c8"/>
<path d="M157.5 57h6l-3 -3.5z" fill="#4a64c8"/>
<rect x="62.5" y="46.5" width="19" height="19" fill="none" stroke="#f6f6f6" stroke-width="1"/>
<rect x="151.5" y="46.5" width="20" height="19" fill="none" stroke="#f6f6f6" stroke-width="1"/>
<text x="147" y="60.5" font-size="12" fill="#000" text-anchor="end" font-weight="normal"  stroke="#000" stroke-width="0.15">3.00</text>
<text x="19.5" y="60.5" font-size="12" fill="#fff" text-anchor="start" font-weight="normal" textLength="25.5" lengthAdjust="spacingAndGlyphs" >SELL</text>
<text x="187.5" y="60.5" font-size="12" fill="#fff" text-anchor="start" font-weight="normal" textLength="23" lengthAdjust="spacingAndGlyphs" >BUY</text>
<text x="26.8" y="96" font-size="11" fill="#fff" text-anchor="start" font-weight="bold" textLength="24" lengthAdjust="spacingAndGlyphs" >0.91</text>
<text x="136.8" y="96" font-size="11" fill="#fff" text-anchor="start" font-weight="bold" textLength="24" lengthAdjust="spacingAndGlyphs" >0.92</text>
<text x="54.6" y="97.3" font-size="34" fill="#fff" text-anchor="start" font-weight="normal" textLength="35" lengthAdjust="spacingAndGlyphs" stroke="url(#gb)" stroke-width="0.7">85</text>
<text x="164.6" y="97.3" font-size="34" fill="#fff" text-anchor="start" font-weight="normal" textLength="37" lengthAdjust="spacingAndGlyphs" stroke="url(#gb)" stroke-width="0.7">00</text>
<text x="94.3" y="80.8" font-size="11" fill="#fff" text-anchor="start" font-weight="bold" >9</text>
<text x="205.3" y="80.8" font-size="11" fill="#fff" text-anchor="start" font-weight="bold" >9</text>
<rect x="0" y="570" width="1205" height="27" fill="#f0f0f0" />
<rect x="0" y="572" width="1205" height="1" fill="#000" />
<rect x="0" y="573" width="1205" height="1" fill="#fff" />
<rect x="0" y="573" width="1" height="18" fill="#696969" />
<rect x="0" y="592" width="1205" height="2" fill="#f8f8f8" />
<rect x="0" y="594" width="1205" height="1" fill="#dcdcdc" />
<rect x="0" y="595" width="1205" height="1" fill="#b0b0b0" />
<rect x="0" y="596" width="1205" height="1" fill="#909090" />
<rect x="321" y="572" width="96" height="19" fill="#000" />
<rect x="322" y="572" width="94" height="18" fill="#fff" />
<text x="16.5" y="587" font-size="13" fill="#727272" text-anchor="start" font-weight="normal" textLength="77.5" lengthAdjust="spacingAndGlyphs" >USDX,Weekly</text>
<text x="116" y="587" font-size="13" fill="#727272" text-anchor="start" font-weight="normal" textLength="85" lengthAdjust="spacingAndGlyphs" >EURUSD-,Daily</text>
<text x="223" y="587" font-size="13" fill="#727272" text-anchor="start" font-weight="normal" textLength="86" lengthAdjust="spacingAndGlyphs" >AUDUSD-,Daily</text>
<text x="429" y="587" font-size="13" fill="#727272" text-anchor="start" font-weight="normal" textLength="85" lengthAdjust="spacingAndGlyphs" >USDCAD-,Daily</text>
<text x="537" y="587" font-size="13" fill="#727272" text-anchor="start" font-weight="normal" textLength="88" lengthAdjust="spacingAndGlyphs" >USDCNH-,Daily</text>
<text x="649" y="587" font-size="13" fill="#727272" text-anchor="start" font-weight="normal" textLength="72.5" lengthAdjust="spacingAndGlyphs" >XAUUSD-,H1</text>
<text x="742.5" y="587" font-size="13" fill="#727272" text-anchor="start" font-weight="normal" textLength="83.0" lengthAdjust="spacingAndGlyphs" >UKOil-,Weekly</text>
<text x="849" y="587" font-size="13" fill="#727272" text-anchor="start" font-weight="normal" textLength="64" lengthAdjust="spacingAndGlyphs" >DJ30-,Daily</text>
<text x="936.5" y="587" font-size="13" fill="#727272" text-anchor="start" font-weight="normal" textLength="60.5" lengthAdjust="spacingAndGlyphs" >UK100-,H1</text>
<text x="333.5" y="587" font-size="13" fill="#000" text-anchor="start" font-weight="normal" textLength="71" lengthAdjust="spacingAndGlyphs"  stroke="#000" stroke-width="0.15">USDCHF-,H4</text>
<rect x="105" y="576" width="1" height="13" fill="#808080" />
<rect x="213" y="576" width="1" height="13" fill="#808080" />
<rect x="525" y="576" width="1" height="13" fill="#808080" />
<rect x="637" y="576" width="1" height="13" fill="#808080" />
<rect x="733" y="576" width="1" height="13" fill="#808080" />
<rect x="837" y="576" width="1" height="13" fill="#808080" />
<rect x="925" y="576" width="1" height="13" fill="#808080" />
<rect x="1009" y="576" width="1" height="13" fill="#808080" />
<path d="M1185.5 577.5v7l-4 -3.5z" fill="#8c8c8c"/>
<path d="M1200.5 577.5v7l4 -3.5z" fill="#8c8c8c"/>
</svg>
</body></html>
